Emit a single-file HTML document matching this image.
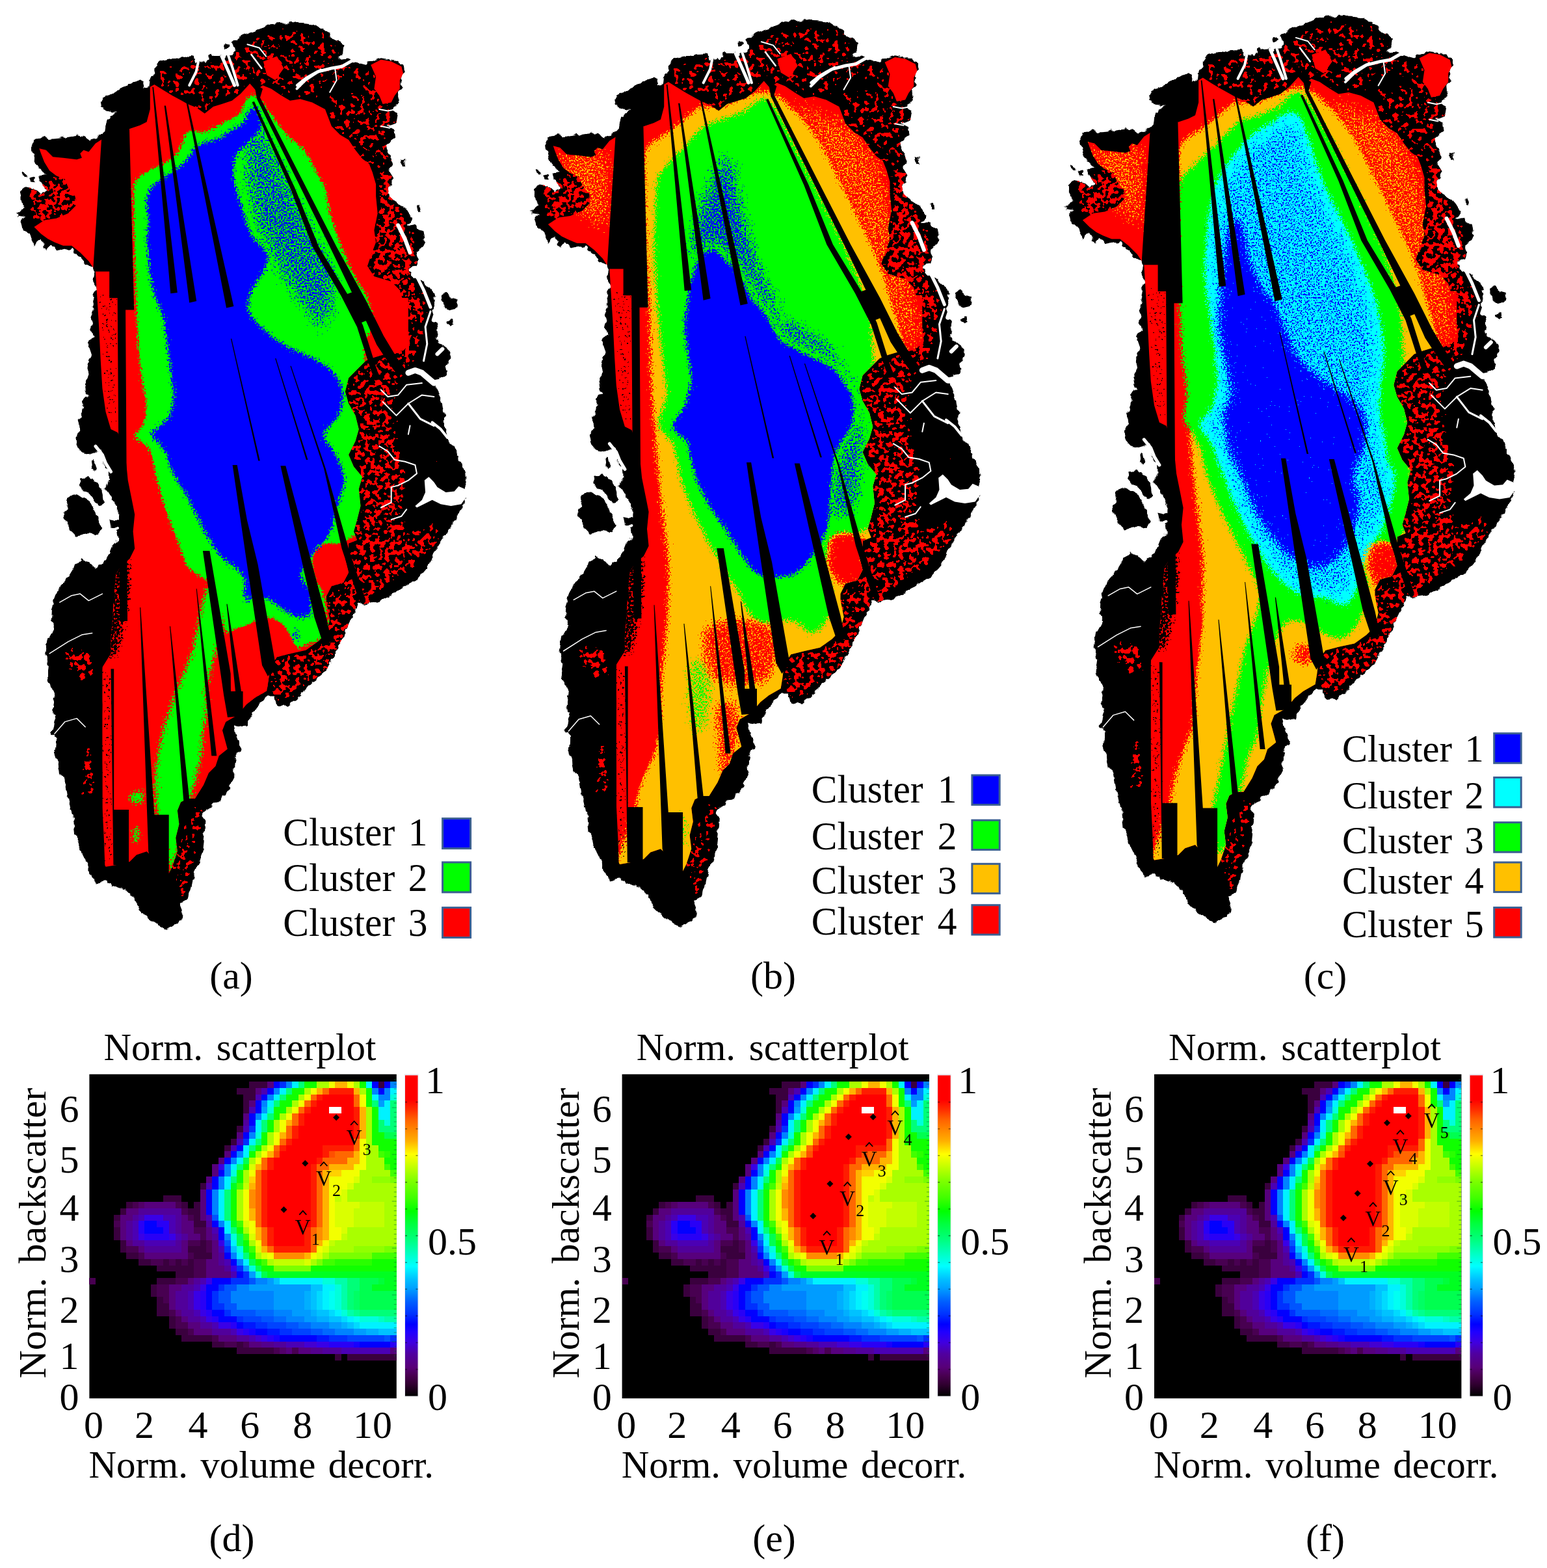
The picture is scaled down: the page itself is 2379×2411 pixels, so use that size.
<!DOCTYPE html>
<html><head><meta charset="utf-8"><title>Figure</title>
<style>html,body{margin:0;padding:0;background:#fff}svg{display:block}text{font-family:"Liberation Serif",serif;fill:#000}</style></head><body>
<svg width="2379" height="2411" viewBox="0 0 2379 2411">
<defs><linearGradient id="cb" x1="0" y1="1" x2="0" y2="0"><stop offset="0.000" stop-color="#000000"/><stop offset="0.036" stop-color="#300030"/><stop offset="0.063" stop-color="#480050"/><stop offset="0.090" stop-color="#580078"/><stop offset="0.132" stop-color="#5000a0"/><stop offset="0.167" stop-color="#4000e0"/><stop offset="0.200" stop-color="#2000ff"/><stop offset="0.224" stop-color="#0000ff"/><stop offset="0.254" stop-color="#0030ff"/><stop offset="0.295" stop-color="#0060ff"/><stop offset="0.336" stop-color="#00a0ff"/><stop offset="0.364" stop-color="#00c0ff"/><stop offset="0.405" stop-color="#00ffff"/><stop offset="0.446" stop-color="#00ffc0"/><stop offset="0.486" stop-color="#00ff80"/><stop offset="0.536" stop-color="#00ff40"/><stop offset="0.577" stop-color="#00ff00"/><stop offset="0.618" stop-color="#40ff00"/><stop offset="0.672" stop-color="#80ff00"/><stop offset="0.713" stop-color="#c0ff00"/><stop offset="0.754" stop-color="#ffff00"/><stop offset="0.795" stop-color="#ffb000"/><stop offset="0.836" stop-color="#ff8000"/><stop offset="0.863" stop-color="#ff6000"/><stop offset="0.891" stop-color="#ff3000"/><stop offset="0.924" stop-color="#ff0000"/><stop offset="1.000" stop-color="#ff0000"/></linearGradient>
<path id="land" d="M141.7 500.0L139.0 487.9L145.6 472.2L141.7 459.1L146.9 446.0L143.0 432.8L145.6 419.7L141.7 409.2L131.2 404.0L125.9 393.5L115.4 390.9L110.2 380.4L99.7 383.0L86.6 385.6L78.7 375.1L70.8 385.6L63.0 367.3L52.5 377.8L44.6 362.0L34.1 351.5L31.5 338.4L39.3 333.2L26.2 331.8L26.2 326.6L38.0 320.0L31.5 306.9L31.5 293.8L39.3 287.3L52.5 289.9L63.0 299.1L73.5 293.8L63.0 282.0L59.0 271.5L69.5 268.9L63.0 258.4L55.1 251.8L51.2 241.3L48.5 225.6L56.4 216.4L65.6 209.9L78.7 213.8L94.4 212.5L110.2 209.9L118.0 208.6L128.5 209.9L139.0 216.4L154.8 207.2L161.3 202.0L164.0 184.9L170.5 177.1L181.0 171.8L167.9 170.5L156.1 165.3L154.8 157.4L160.0 149.5L171.8 143.0L184.9 137.7L195.4 128.5L209.9 125.9L216.4 123.3L220.4 128.5L220.4 135.1L228.2 133.8L229.5 122.0L237.4 115.4L237.4 101.0L247.9 94.4L258.4 91.8L272.8 89.2L297.7 86.6L300.4 98.4L308.2 90.5L314.8 98.4L322.7 85.3L338.4 83.9L343.7 91.8L352.8 83.9L360.7 80.0L356.8 65.6L369.9 55.1L384.3 49.8L406.6 42.0L425.0 35.4L446.0 34.1L469.6 35.4L485.3 36.7L493.2 42.0L500.0 45.9L507.2 56.4L520.4 63.0L529.5 70.8L528.2 78.7L520.4 86.6L523.0 91.8L536.1 90.5L551.8 97.1L570.2 94.4L585.9 89.2L601.7 91.8L620.0 99.7L622.7 110.2L617.4 123.3L618.7 136.4L610.9 146.9L613.5 160.0L601.7 167.9L612.2 173.1L609.5 188.9L596.4 194.1L606.9 199.4L608.2 212.5L593.8 223.0L596.4 236.1L601.7 244.0L604.3 251.8L599.1 262.3L606.9 270.2L601.7 283.3L596.4 288.6L599.1 301.7L606.9 309.5L614.8 314.8L625.3 322.7L633.2 335.8L627.9 346.3L641.0 348.9L651.5 356.8L654.1 372.5L648.9 383.0L638.4 388.2L643.7 398.7L638.4 409.2L627.9 411.9L633.2 425.0L641.0 430.2L651.5 432.8L659.4 440.7L667.3 451.2L669.9 464.3L664.6 477.4L667.3 487.9L672.5 500.0L672.5 510.3L669.9 520.8L677.8 528.7L688.2 536.6L693.5 549.7L685.6 562.8L688.2 573.3L677.8 581.2L667.3 591.7L672.5 602.2L677.8 612.6L680.4 623.1L683.0 638.9L683.0 654.6L688.2 675.6L698.7 686.1L705.3 701.8L711.9 717.6L719.7 735.9L715.8 749.1L717.1 767.4L709.2 780.5L704.0 793.7L693.5 812.0L680.4 827.8L667.3 848.7L659.4 869.7L641.0 890.7L622.7 900.0L601.7 913.1L583.3 923.6L562.3 928.9L549.2 926.2L544.0 944.6L536.1 960.3L528.2 976.1L523.0 989.2L515.1 1004.9L507.2 1023.3L494.1 1039.0L481.0 1046.9L467.9 1062.6L457.4 1075.8L441.7 1086.3L425.9 1083.6L420.7 1070.5L410.2 1070.5L399.7 1083.6L389.2 1096.7L378.7 1115.1L368.2 1117.7L360.3 1115.1L365.6 1136.1L370.8 1149.2L363.0 1162.3L360.3 1175.4L360.3 1196.4L358.5 1200.0L352.2 1212.6L339.6 1229.4L322.8 1242.0L310.2 1254.6L316.5 1263.0L314.4 1283.9L312.3 1309.1L303.9 1330.1L297.6 1346.9L293.4 1367.9L289.2 1382.6L276.7 1388.9L280.8 1399.4L278.8 1412.0L268.3 1422.5L255.7 1428.8L243.1 1422.5L228.4 1412.0L215.8 1399.4L205.3 1380.5L192.7 1367.9L175.9 1361.6L163.3 1355.3L148.6 1357.4L140.2 1346.9L133.9 1325.9L123.5 1304.9L115.1 1283.9L113.0 1258.8L104.6 1231.5L100.4 1200.0L91.8 1188.6L89.2 1172.8L83.9 1157.1L86.6 1136.1L78.7 1128.2L85.3 1104.6L81.3 1088.9L83.9 1073.1L78.7 1057.4L72.1 1041.7L74.8 1023.3L69.5 1007.6L73.5 983.9L83.9 965.6L78.7 952.5L80.0 939.3L83.9 921.0L91.8 900.0L107.6 882.8L115.4 869.7L125.9 859.2L136.4 864.5L146.9 875.0L157.4 867.1L167.9 851.4L173.1 838.2L183.6 827.8L181.0 817.3L170.5 812.0L167.9 798.9L181.0 801.5L183.6 791.0L178.4 775.3L170.5 764.8L162.6 751.7L167.9 738.6L167.9 722.8L157.4 712.3L160.0 701.8L154.8 691.3L141.7 699.2L125.9 695.3L118.0 686.1L115.4 673.0L123.3 659.9L120.7 646.7L125.9 633.6L128.5 617.9L133.8 607.4L129.9 591.7L137.7 575.9L133.8 560.2L141.7 544.4L136.4 528.7L143.0 518.2L139.0 502.5ZM122.0 734.6L136.4 733.3L149.5 741.2L157.4 754.3L160.0 770.0L154.8 777.9L146.9 772.7L141.7 764.8L136.4 759.5L128.5 754.3L123.3 746.4ZM104.9 764.8L118.0 759.5L131.2 764.8L141.7 780.5L152.2 798.9L157.4 812.0L149.5 822.5L136.4 819.9L118.0 825.1L107.6 814.6L99.7 798.9L98.4 788.4L103.6 775.3ZM139.0 708.4L144.3 707.1L147.4 715.0L145.6 722.8L140.3 721.5ZM32.8 263.6L38.0 265.0L42.0 274.1L36.7 272.8ZM44.6 272.8L51.2 274.1L53.8 279.4L47.2 278.6ZM345.0 68.7L350.2 67.7L351.5 73.5L346.8 74.8ZM617.4 244.0L622.1 245.3L623.2 257.1L618.7 255.8ZM641.0 314.8L645.8 316.1L646.8 327.9L642.3 326.6ZM677.8 456.5L685.6 451.2L693.5 456.5L702.7 459.1L701.4 469.6L690.9 472.2L683.0 466.9ZM677.8 457.9L685.6 452.6L693.5 460.5L702.7 463.1L701.4 473.6L690.9 476.2L683.0 471.0ZM688.2 494.6L696.1 492.0L697.4 499.8L690.9 502.5Z"/>
<clipPath id="iceclip"><path d="M146.9 417.1L136.4 401.4L123.3 388.2L110.2 377.8L97.1 377.8L83.9 372.5L73.5 367.3L63.0 359.4L52.5 348.9L68.2 338.4L86.6 335.8L104.9 327.9L118.0 314.8L115.4 301.7L104.9 288.6L99.7 275.4L86.6 270.2L76.1 262.3L68.2 249.2L63.0 236.1L60.3 228.2L70.8 230.8L81.3 241.3L97.1 242.7L118.0 245.3L125.9 242.7L123.3 236.1L128.5 230.8L136.4 233.5L146.9 220.4L157.4 213.8L164.0 199.4L199.4 198.1L215.1 192.8L225.6 187.6L230.8 167.9L230.8 133.8L237.4 129.9L251.8 139.0L265.0 146.9L279.4 154.8L288.6 160.0L301.7 165.3L314.8 174.4L327.9 164.0L341.0 160.0L356.8 154.8L369.9 144.3L384.3 128.5L393.5 139.0L404.0 131.2L417.1 136.4L432.8 146.9L446.0 154.8L461.7 152.2L480.1 157.4L500.0 167.9L509.9 194.1L523.0 207.2L536.1 215.1L546.6 230.8L557.1 244.0L567.6 251.8L572.8 265.0L578.1 283.3L578.1 301.7L580.7 327.9L575.4 354.1L578.1 372.5L570.2 393.5L565.0 409.2L575.4 425.0L601.7 432.8L614.8 446.0L622.7 472.2L627.9 500.0L627.9 510.3L630.5 528.7L620.0 539.2L601.7 541.8L575.4 549.7L562.3 554.9L549.2 568.0L536.1 581.2L530.8 602.2L536.1 620.5L546.6 638.9L551.8 659.9L546.6 678.2L536.1 699.2L544.0 717.6L557.1 733.3L551.8 751.7L554.5 777.9L549.2 798.9L544.0 817.3L549.2 830.4L536.1 835.6L536.1 843.5L530.8 859.2L536.1 880.2L528.2 896.0L509.9 901.2L502.0 916.9L502.0 926.2L507.2 952.5L502.0 973.5L488.9 986.6L470.5 999.7L446.9 1004.9L425.9 1010.2L415.4 1025.9L412.8 1046.9L410.2 1062.6L391.8 1073.1L378.7 1083.6L365.6 1099.4L347.2 1109.9L342.0 1123.0L349.8 1151.8L336.7 1162.3L331.5 1178.1L321.0 1188.6L313.1 1206.9L300.0 1227.9L288.6 1227.9L278.1 1233.2L272.8 1246.3L275.4 1267.3L270.2 1288.2L272.8 1309.2L265.0 1332.8L259.7 1343.3L236.1 1319.7L225.6 1309.2L209.9 1314.5L199.4 1325.0L178.4 1330.2L162.6 1332.8L161.3 1330.2L160.0 1293.5L157.4 1241.0L157.4 1188.6L156.1 1136.1L157.4 1083.6L154.8 1046.9L157.4 1025.9L170.5 1004.9L170.5 978.7L173.1 952.5L174.4 926.2L178.4 935.3L175.8 909.1L178.4 882.8L186.3 869.7L199.4 859.2L207.2 843.5L204.6 817.3L207.2 791.0L202.0 764.8L196.7 738.6L194.1 712.3L188.9 686.1L181.0 665.1L170.5 659.9L162.6 633.6L157.4 596.9L154.8 554.9L152.2 502.5ZM570.2 99.7L585.9 91.8L601.7 94.4L617.4 102.3L620.0 112.8L614.8 123.3L614.8 136.4L606.9 146.9L601.7 157.4L588.6 160.0L583.3 146.9L575.4 136.4L578.1 118.0ZM404.9 94.4L425.9 86.6L436.4 104.9L423.3 123.3L410.2 115.4ZM572.8 457.9L627.9 457.9L627.9 515.6L614.8 533.9L601.7 541.8L575.4 536.6Z"/></clipPath>
<clipPath id="landclip"><path d="M141.7 500.0L139.0 487.9L145.6 472.2L141.7 459.1L146.9 446.0L143.0 432.8L145.6 419.7L141.7 409.2L131.2 404.0L125.9 393.5L115.4 390.9L110.2 380.4L99.7 383.0L86.6 385.6L78.7 375.1L70.8 385.6L63.0 367.3L52.5 377.8L44.6 362.0L34.1 351.5L31.5 338.4L39.3 333.2L26.2 331.8L26.2 326.6L38.0 320.0L31.5 306.9L31.5 293.8L39.3 287.3L52.5 289.9L63.0 299.1L73.5 293.8L63.0 282.0L59.0 271.5L69.5 268.9L63.0 258.4L55.1 251.8L51.2 241.3L48.5 225.6L56.4 216.4L65.6 209.9L78.7 213.8L94.4 212.5L110.2 209.9L118.0 208.6L128.5 209.9L139.0 216.4L154.8 207.2L161.3 202.0L164.0 184.9L170.5 177.1L181.0 171.8L167.9 170.5L156.1 165.3L154.8 157.4L160.0 149.5L171.8 143.0L184.9 137.7L195.4 128.5L209.9 125.9L216.4 123.3L220.4 128.5L220.4 135.1L228.2 133.8L229.5 122.0L237.4 115.4L237.4 101.0L247.9 94.4L258.4 91.8L272.8 89.2L297.7 86.6L300.4 98.4L308.2 90.5L314.8 98.4L322.7 85.3L338.4 83.9L343.7 91.8L352.8 83.9L360.7 80.0L356.8 65.6L369.9 55.1L384.3 49.8L406.6 42.0L425.0 35.4L446.0 34.1L469.6 35.4L485.3 36.7L493.2 42.0L500.0 45.9L507.2 56.4L520.4 63.0L529.5 70.8L528.2 78.7L520.4 86.6L523.0 91.8L536.1 90.5L551.8 97.1L570.2 94.4L585.9 89.2L601.7 91.8L620.0 99.7L622.7 110.2L617.4 123.3L618.7 136.4L610.9 146.9L613.5 160.0L601.7 167.9L612.2 173.1L609.5 188.9L596.4 194.1L606.9 199.4L608.2 212.5L593.8 223.0L596.4 236.1L601.7 244.0L604.3 251.8L599.1 262.3L606.9 270.2L601.7 283.3L596.4 288.6L599.1 301.7L606.9 309.5L614.8 314.8L625.3 322.7L633.2 335.8L627.9 346.3L641.0 348.9L651.5 356.8L654.1 372.5L648.9 383.0L638.4 388.2L643.7 398.7L638.4 409.2L627.9 411.9L633.2 425.0L641.0 430.2L651.5 432.8L659.4 440.7L667.3 451.2L669.9 464.3L664.6 477.4L667.3 487.9L672.5 500.0L672.5 510.3L669.9 520.8L677.8 528.7L688.2 536.6L693.5 549.7L685.6 562.8L688.2 573.3L677.8 581.2L667.3 591.7L672.5 602.2L677.8 612.6L680.4 623.1L683.0 638.9L683.0 654.6L688.2 675.6L698.7 686.1L705.3 701.8L711.9 717.6L719.7 735.9L715.8 749.1L717.1 767.4L709.2 780.5L704.0 793.7L693.5 812.0L680.4 827.8L667.3 848.7L659.4 869.7L641.0 890.7L622.7 900.0L601.7 913.1L583.3 923.6L562.3 928.9L549.2 926.2L544.0 944.6L536.1 960.3L528.2 976.1L523.0 989.2L515.1 1004.9L507.2 1023.3L494.1 1039.0L481.0 1046.9L467.9 1062.6L457.4 1075.8L441.7 1086.3L425.9 1083.6L420.7 1070.5L410.2 1070.5L399.7 1083.6L389.2 1096.7L378.7 1115.1L368.2 1117.7L360.3 1115.1L365.6 1136.1L370.8 1149.2L363.0 1162.3L360.3 1175.4L360.3 1196.4L358.5 1200.0L352.2 1212.6L339.6 1229.4L322.8 1242.0L310.2 1254.6L316.5 1263.0L314.4 1283.9L312.3 1309.1L303.9 1330.1L297.6 1346.9L293.4 1367.9L289.2 1382.6L276.7 1388.9L280.8 1399.4L278.8 1412.0L268.3 1422.5L255.7 1428.8L243.1 1422.5L228.4 1412.0L215.8 1399.4L205.3 1380.5L192.7 1367.9L175.9 1361.6L163.3 1355.3L148.6 1357.4L140.2 1346.9L133.9 1325.9L123.5 1304.9L115.1 1283.9L113.0 1258.8L104.6 1231.5L100.4 1200.0L91.8 1188.6L89.2 1172.8L83.9 1157.1L86.6 1136.1L78.7 1128.2L85.3 1104.6L81.3 1088.9L83.9 1073.1L78.7 1057.4L72.1 1041.7L74.8 1023.3L69.5 1007.6L73.5 983.9L83.9 965.6L78.7 952.5L80.0 939.3L83.9 921.0L91.8 900.0L107.6 882.8L115.4 869.7L125.9 859.2L136.4 864.5L146.9 875.0L157.4 867.1L167.9 851.4L173.1 838.2L183.6 827.8L181.0 817.3L170.5 812.0L167.9 798.9L181.0 801.5L183.6 791.0L178.4 775.3L170.5 764.8L162.6 751.7L167.9 738.6L167.9 722.8L157.4 712.3L160.0 701.8L154.8 691.3L141.7 699.2L125.9 695.3L118.0 686.1L115.4 673.0L123.3 659.9L120.7 646.7L125.9 633.6L128.5 617.9L133.8 607.4L129.9 591.7L137.7 575.9L133.8 560.2L141.7 544.4L136.4 528.7L143.0 518.2L139.0 502.5ZM122.0 734.6L136.4 733.3L149.5 741.2L157.4 754.3L160.0 770.0L154.8 777.9L146.9 772.7L141.7 764.8L136.4 759.5L128.5 754.3L123.3 746.4ZM104.9 764.8L118.0 759.5L131.2 764.8L141.7 780.5L152.2 798.9L157.4 812.0L149.5 822.5L136.4 819.9L118.0 825.1L107.6 814.6L99.7 798.9L98.4 788.4L103.6 775.3ZM139.0 708.4L144.3 707.1L147.4 715.0L145.6 722.8L140.3 721.5ZM32.8 263.6L38.0 265.0L42.0 274.1L36.7 272.8ZM44.6 272.8L51.2 274.1L53.8 279.4L47.2 278.6ZM345.0 68.7L350.2 67.7L351.5 73.5L346.8 74.8ZM617.4 244.0L622.1 245.3L623.2 257.1L618.7 255.8ZM641.0 314.8L645.8 316.1L646.8 327.9L642.3 326.6ZM677.8 456.5L685.6 451.2L693.5 456.5L702.7 459.1L701.4 469.6L690.9 472.2L683.0 466.9ZM677.8 457.9L685.6 452.6L693.5 460.5L702.7 463.1L701.4 473.6L690.9 476.2L683.0 471.0ZM688.2 494.6L696.1 492.0L697.4 499.8L690.9 502.5Z"/></clipPath>
<path id="stripes" d="M165.0 183.0L199.0 198.0L206.2 476.6L193.1 476.6L196.0 955.0L184.0 955.0L180.7 458.2L168.2 458.2L168.2 417.5L143.0 417.5L156.0 215.0ZM234.3 133.8L236.1 133.8L272.8 449.9L262.3 451.2ZM252.6 162.6L255.0 162.6L302.2 463.0L291.2 465.6ZM286.7 158.7L289.1 158.7L359.4 470.9L348.1 473.5ZM354.9 520.8L356.2 520.8L399.8 708.4L397.2 708.4ZM423.1 551.0L424.4 551.0L473.5 707.1L470.9 707.1ZM357.6 715.0L364.7 715.0L380.0 800.0L396.6 868.0L424.0 1023.0L412.0 1040.0L403.0 1023.0L379.9 868.0ZM431.4 716.3L439.3 716.3L502.0 950.0L483.6 950.0ZM483.6 949.8L502.0 949.8L509.9 986.6L496.7 989.2ZM311.9 846.9L322.4 846.9L354.7 1035.8L355.0 1063.0L373.6 1063.0L373.6 1101.0L350.0 1103.0L344.2 1069.4ZM348.4 928.7L349.6 928.7L371.0 1063.0L362.0 1063.0ZM301.7 905.2L302.7 905.2L333.2 1162.3L325.3 1162.3ZM261.0 963.0L262.1 963.0L291.2 1227.9L296.4 1293.5L288.6 1293.5L282.0 1227.9ZM215.1 934.1L216.2 934.1L237.4 1252.8L259.7 1252.8L259.7 1346.0L237.4 1346.0L228.2 1309.2ZM170.5 1028.5L175.2 1028.5L175.2 1245.0L198.1 1245.0L198.1 1330.2L174.4 1330.2ZM145.6 1015.4L157.4 1015.4L157.4 1332.8L145.6 1332.8ZM391.0 156.0L453.0 288.0L490.5 380.0L536.0 455.0L558.0 500.0L580.0 570.0L586.0 583.0L577.0 585.0L571.0 571.0L549.1 502.8L524.6 455.0L480.9 380.0L446.0 288.6L387.5 157.0ZM390.9 128.5L404.0 136.4L400.0 150.0L517.8 380.0L562.8 461.9L590.0 516.4L610.5 550.5L625.0 570.0L610.0 575.0L597.0 557.0L579.2 530.0L562.8 493.2L541.0 449.6L507.5 380.0L395.0 152.0ZM527.3 454.4L541.0 449.6L562.8 493.2L549.1 498.7ZM446.4 562.8L447.7 562.8L500.7 720.2L536.1 843.5L562.3 922.2L551.8 922.2L525.6 843.5L498.1 720.2Z"/>
<g id="fjords" fill="none" stroke="#fff" stroke-linejoin="round" stroke-linecap="round"><path d="M457.4 131.2L470.5 120.7L488.9 110.2L509.9 104.9L525.6 102.3L544.0 91.8L562.3 97.1" stroke-width="5"/><path d="M544.0 91.8L551.8 86.6" stroke-width="9"/><path d="M305.6 91.8L301.7 110.2L291.2 131.2" stroke-width="4"/><path d="M341.0 86.6L351.5 110.2L360.7 131.2" stroke-width="5"/><path d="M380.4 68.2L398.7 73.5L409.2 86.6" stroke-width="2"/><path d="M456.5 136.4L469.6 123.3L493.2 107.6" stroke-width="4"/><path d="M349.8 81.3L357.7 104.9L365.6 131.2" stroke-width="4"/><path d="M386.6 83.9L394.4 94.4L402.3 104.9" stroke-width="2.5"/><path d="M515.1 104.9L517.7 123.3L507.2 141.7" stroke-width="2"/><path d="M583.3 167.9L596.4 170.5L609.5 167.9" stroke-width="2"/><path d="M585.9 194.1L599.1 196.7" stroke-width="2"/><path d="M585.9 599.5L596.4 610.0L612.2 607.4L625.3 591.7L648.9 589.0" stroke-width="2"/><path d="M588.6 617.9L609.5 638.9L627.9 620.5L648.9 607.4L667.3 610.0" stroke-width="2"/><path d="M627.9 620.5L646.3 644.1L667.3 654.6" stroke-width="3"/><path d="M630.5 654.6L627.9 667.7" stroke-width="2"/><path d="M627.9 573.3L638.4 569.4L648.9 573.3L667.3 589.0L680.4 586.4" stroke-width="9"/><path d="M672.5 476.2L667.3 492.0" stroke-width="7"/><path d="M680.4 536.6L672.5 544.4" stroke-width="6"/><path d="M664.6 649.4L677.8 659.9L688.2 673.0" stroke-width="4"/><path d="M601.7 262.3L614.8 283.3L622.7 301.7" stroke-width="6"/><path d="M612.2 346.3L622.7 367.3L630.5 388.2" stroke-width="6"/><path d="M641.0 425.0L651.5 446.0L662.0 472.2" stroke-width="5"/><path d="M662.0 478.9L654.1 502.5L656.8 528.7L651.5 554.9" stroke-width="3"/><path d="M583.3 686.1L596.4 694.0L606.9 707.1L622.7 709.7L638.4 715.0L641.0 728.1L627.9 738.6L612.2 746.4L601.7 749.1L601.7 772.7L585.9 780.5" stroke-width="2"/><path d="M625.3 783.2L617.4 793.7L601.7 798.9" stroke-width="2"/><path d="M146.9 686.1L157.4 699.2L162.6 712.3L170.5 725.4" stroke-width="5"/><path d="M160.0 780.5L167.9 791.0" stroke-width="6"/><path d="M157.4 825.1L167.9 817.3L181.0 812.0" stroke-width="4"/><path d="M91.8 926.2L110.2 915.7L123.3 913.1L136.4 923.6L157.4 913.1" stroke-width="1.5"/><path d="M76.1 1004.9L104.9 986.6L125.9 976.1L141.7 973.5" stroke-width="1.5"/><path d="M83.9 1128.2L99.7 1109.9L118.0 1104.6L131.2 1117.7" stroke-width="1.5"/><path d="M715.8 766.1L709.2 775.3L693.5 777.9L677.8 775.3L664.6 768.7L654.1 774.0L641.0 780.5L638.4 777.9L648.9 768.7L654.1 756.9L652.8 738.6L659.4 733.3L667.3 741.2L672.5 749.1L685.6 756.9L698.7 755.6L705.3 747.7L714.5 751.7L725.0 759.5ZM131.2 825.1L146.9 825.1L157.4 817.3L160.0 791.0L167.9 801.5L162.6 817.3L146.9 827.8L131.2 830.4L115.4 827.8Z" fill="#fff" stroke="none"/></g>
<filter id="rough" x="-5%" y="-5%" width="110%" height="110%"><feTurbulence type="fractalNoise" baseFrequency="0.09" numOctaves="2" seed="3"/><feDisplacementMap in="SourceGraphic" scale="9" xChannelSelector="R" yChannelSelector="G"/></filter>
<filter id="dff0000_5_0_13" x="-15%" y="-15%" width="130%" height="130%" color-interpolation-filters="sRGB"><feGaussianBlur in="SourceAlpha" stdDeviation="5" result="b"/><feTurbulence type="fractalNoise" baseFrequency="0.13" numOctaves="2" seed="11" result="n"/><feComposite in="b" in2="n" operator="arithmetic" k1="0" k2="1" k3="1.3" k4="-0.65" result="c"/><feComponentTransfer in="c" result="t"><feFuncA type="discrete" tableValues="0 1"/></feComponentTransfer><feFlood flood-color="#ff0000" result="f"/><feComposite in="f" in2="t" operator="in"/></filter>
<filter id="d00ff00_6_0_4" x="-15%" y="-15%" width="130%" height="130%" color-interpolation-filters="sRGB"><feGaussianBlur in="SourceAlpha" stdDeviation="6" result="b"/><feTurbulence type="fractalNoise" baseFrequency="0.4" numOctaves="2" seed="5" result="n"/><feComposite in="b" in2="n" operator="arithmetic" k1="0" k2="1" k3="1.0" k4="-0.5" result="c"/><feComponentTransfer in="c" result="t"><feFuncA type="discrete" tableValues="0 1"/></feComponentTransfer><feFlood flood-color="#00ff00" result="f"/><feComposite in="f" in2="t" operator="in"/></filter>
<filter id="d00ff00_10_0_4" x="-15%" y="-15%" width="130%" height="130%" color-interpolation-filters="sRGB"><feGaussianBlur in="SourceAlpha" stdDeviation="10" result="b"/><feTurbulence type="fractalNoise" baseFrequency="0.4" numOctaves="2" seed="5" result="n"/><feComposite in="b" in2="n" operator="arithmetic" k1="0" k2="1" k3="1.0" k4="-0.5" result="c"/><feComponentTransfer in="c" result="t"><feFuncA type="discrete" tableValues="0 1"/></feComponentTransfer><feFlood flood-color="#00ff00" result="f"/><feComposite in="f" in2="t" operator="in"/></filter>
<filter id="dff0000_6_0_4" x="-15%" y="-15%" width="130%" height="130%" color-interpolation-filters="sRGB"><feGaussianBlur in="SourceAlpha" stdDeviation="6" result="b"/><feTurbulence type="fractalNoise" baseFrequency="0.4" numOctaves="2" seed="5" result="n"/><feComposite in="b" in2="n" operator="arithmetic" k1="0" k2="1" k3="1.0" k4="-0.5" result="c"/><feComponentTransfer in="c" result="t"><feFuncA type="discrete" tableValues="0 1"/></feComponentTransfer><feFlood flood-color="#ff0000" result="f"/><feComposite in="f" in2="t" operator="in"/></filter>
<filter id="d0000ff_14_0_4" x="-15%" y="-15%" width="130%" height="130%" color-interpolation-filters="sRGB"><feGaussianBlur in="SourceAlpha" stdDeviation="14" result="b"/><feTurbulence type="fractalNoise" baseFrequency="0.4" numOctaves="2" seed="5" result="n"/><feComposite in="b" in2="n" operator="arithmetic" k1="0" k2="1" k3="1.0" k4="-0.5" result="c"/><feComponentTransfer in="c" result="t"><feFuncA type="discrete" tableValues="0 1"/></feComponentTransfer><feFlood flood-color="#0000ff" result="f"/><feComposite in="f" in2="t" operator="in"/></filter>
<filter id="d0000ff_8_0_4" x="-15%" y="-15%" width="130%" height="130%" color-interpolation-filters="sRGB"><feGaussianBlur in="SourceAlpha" stdDeviation="8" result="b"/><feTurbulence type="fractalNoise" baseFrequency="0.4" numOctaves="2" seed="5" result="n"/><feComposite in="b" in2="n" operator="arithmetic" k1="0" k2="1" k3="1.0" k4="-0.5" result="c"/><feComponentTransfer in="c" result="t"><feFuncA type="discrete" tableValues="0 1"/></feComponentTransfer><feFlood flood-color="#0000ff" result="f"/><feComposite in="f" in2="t" operator="in"/></filter>
<filter id="d000000_4_0_3" x="-15%" y="-15%" width="130%" height="130%" color-interpolation-filters="sRGB"><feGaussianBlur in="SourceAlpha" stdDeviation="4" result="b"/><feTurbulence type="fractalNoise" baseFrequency="0.3" numOctaves="2" seed="7" result="n"/><feComposite in="b" in2="n" operator="arithmetic" k1="0" k2="1" k3="1.3" k4="-0.65" result="c"/><feComponentTransfer in="c" result="t"><feFuncA type="discrete" tableValues="0 1"/></feComponentTransfer><feFlood flood-color="#000000" result="f"/><feComposite in="f" in2="t" operator="in"/></filter>
<filter id="dffc000_16_0_4" x="-15%" y="-15%" width="130%" height="130%" color-interpolation-filters="sRGB"><feGaussianBlur in="SourceAlpha" stdDeviation="16" result="b"/><feTurbulence type="fractalNoise" baseFrequency="0.4" numOctaves="2" seed="5" result="n"/><feComposite in="b" in2="n" operator="arithmetic" k1="0" k2="1" k3="1.0" k4="-0.5" result="c"/><feComponentTransfer in="c" result="t"><feFuncA type="discrete" tableValues="0 1"/></feComponentTransfer><feFlood flood-color="#ffc000" result="f"/><feComposite in="f" in2="t" operator="in"/></filter>
<filter id="dffc000_10_0_4" x="-15%" y="-15%" width="130%" height="130%" color-interpolation-filters="sRGB"><feGaussianBlur in="SourceAlpha" stdDeviation="10" result="b"/><feTurbulence type="fractalNoise" baseFrequency="0.4" numOctaves="2" seed="5" result="n"/><feComposite in="b" in2="n" operator="arithmetic" k1="0" k2="1" k3="1.0" k4="-0.5" result="c"/><feComponentTransfer in="c" result="t"><feFuncA type="discrete" tableValues="0 1"/></feComponentTransfer><feFlood flood-color="#ffc000" result="f"/><feComposite in="f" in2="t" operator="in"/></filter>
<filter id="d00ff00_9_0_4" x="-15%" y="-15%" width="130%" height="130%" color-interpolation-filters="sRGB"><feGaussianBlur in="SourceAlpha" stdDeviation="9" result="b"/><feTurbulence type="fractalNoise" baseFrequency="0.4" numOctaves="2" seed="5" result="n"/><feComposite in="b" in2="n" operator="arithmetic" k1="0" k2="1" k3="1.0" k4="-0.5" result="c"/><feComponentTransfer in="c" result="t"><feFuncA type="discrete" tableValues="0 1"/></feComponentTransfer><feFlood flood-color="#00ff00" result="f"/><feComposite in="f" in2="t" operator="in"/></filter>
<filter id="dff0000_8_0_4" x="-15%" y="-15%" width="130%" height="130%" color-interpolation-filters="sRGB"><feGaussianBlur in="SourceAlpha" stdDeviation="8" result="b"/><feTurbulence type="fractalNoise" baseFrequency="0.4" numOctaves="2" seed="5" result="n"/><feComposite in="b" in2="n" operator="arithmetic" k1="0" k2="1" k3="1.0" k4="-0.5" result="c"/><feComponentTransfer in="c" result="t"><feFuncA type="discrete" tableValues="0 1"/></feComponentTransfer><feFlood flood-color="#ff0000" result="f"/><feComposite in="f" in2="t" operator="in"/></filter>
<filter id="dff0000_10_0_4" x="-15%" y="-15%" width="130%" height="130%" color-interpolation-filters="sRGB"><feGaussianBlur in="SourceAlpha" stdDeviation="10" result="b"/><feTurbulence type="fractalNoise" baseFrequency="0.4" numOctaves="2" seed="5" result="n"/><feComposite in="b" in2="n" operator="arithmetic" k1="0" k2="1" k3="1.0" k4="-0.5" result="c"/><feComponentTransfer in="c" result="t"><feFuncA type="discrete" tableValues="0 1"/></feComponentTransfer><feFlood flood-color="#ff0000" result="f"/><feComposite in="f" in2="t" operator="in"/></filter>
<filter id="d0000ff_12_0_4" x="-15%" y="-15%" width="130%" height="130%" color-interpolation-filters="sRGB"><feGaussianBlur in="SourceAlpha" stdDeviation="12" result="b"/><feTurbulence type="fractalNoise" baseFrequency="0.4" numOctaves="2" seed="5" result="n"/><feComposite in="b" in2="n" operator="arithmetic" k1="0" k2="1" k3="1.0" k4="-0.5" result="c"/><feComponentTransfer in="c" result="t"><feFuncA type="discrete" tableValues="0 1"/></feComponentTransfer><feFlood flood-color="#0000ff" result="f"/><feComposite in="f" in2="t" operator="in"/></filter>
<filter id="d00ffff_9_0_4" x="-15%" y="-15%" width="130%" height="130%" color-interpolation-filters="sRGB"><feGaussianBlur in="SourceAlpha" stdDeviation="9" result="b"/><feTurbulence type="fractalNoise" baseFrequency="0.4" numOctaves="2" seed="5" result="n"/><feComposite in="b" in2="n" operator="arithmetic" k1="0" k2="1" k3="1.0" k4="-0.5" result="c"/><feComponentTransfer in="c" result="t"><feFuncA type="discrete" tableValues="0 1"/></feComponentTransfer><feFlood flood-color="#00ffff" result="f"/><feComposite in="f" in2="t" operator="in"/></filter>
<filter id="d0000ff_16_0_4" x="-15%" y="-15%" width="130%" height="130%" color-interpolation-filters="sRGB"><feGaussianBlur in="SourceAlpha" stdDeviation="16" result="b"/><feTurbulence type="fractalNoise" baseFrequency="0.4" numOctaves="2" seed="5" result="n"/><feComposite in="b" in2="n" operator="arithmetic" k1="0" k2="1" k3="1.0" k4="-0.5" result="c"/><feComponentTransfer in="c" result="t"><feFuncA type="discrete" tableValues="0 1"/></feComponentTransfer><feFlood flood-color="#0000ff" result="f"/><feComposite in="f" in2="t" operator="in"/></filter>
</defs>
<rect width="2379" height="2411" fill="#fff"/>
<g transform="translate(0.0 0.0)">
<use href="#land" fill="#000" filter="url(#rough)"/>
<g clip-path="url(#landclip)">
<path d="M237.4 115.4L262.3 99.7L301.7 94.4L341.0 89.2L367.3 78.7L380.4 60.3L419.7 47.2L459.1 44.6L500.0 52.5L523.0 68.2L523.0 89.2L536.1 99.7L562.3 104.9L588.6 94.4L614.8 104.9L614.8 136.4L606.9 157.4L588.6 162.6L562.3 157.4L549.2 131.2L509.9 125.9L483.6 146.9L457.4 157.4L431.2 146.9L418.0 133.8L404.9 131.2L378.7 131.2L367.3 146.9L341.0 157.4L314.8 173.1L288.6 157.4L262.3 146.9L236.1 131.2Z" fill="#f00" fill-opacity="0.36" filter="url(#dff0000_5_0_13)"/>
<path d="M578.1 262.3L601.7 262.3L609.5 314.8L627.9 341.0L641.0 393.5L635.8 432.8L654.1 459.1L654.1 500.0L627.9 500.0L614.8 446.0L575.4 425.0L565.0 409.2L570.2 393.5L578.1 372.5L575.4 354.1L580.7 327.9Z" fill="#f00" fill-opacity="0.5" filter="url(#dff0000_5_0_13)"/>
<path d="M627.9 502.5L654.1 502.5L641.0 554.9L614.8 581.2L601.7 633.6L614.8 686.1L627.9 738.6L614.8 791.0L627.9 817.3L667.3 804.1L680.4 830.4L641.0 869.7L588.6 909.1L562.3 935.3L546.6 950.0L483.6 950.0L502.0 916.9L528.2 896.0L536.1 880.2L530.8 859.2L549.2 830.4L544.0 817.3L554.5 777.9L551.8 751.7L557.1 733.3L544.0 717.6L536.1 699.2L551.8 659.9L536.1 620.5L530.8 602.2L549.2 568.0L575.4 549.7L601.7 541.8Z" fill="#f00" fill-opacity="0.46" filter="url(#dff0000_5_0_13)"/>
<path d="M483.6 949.8L546.6 949.8L536.1 978.7L523.0 1004.9L496.7 1036.4L470.5 1057.4L431.2 1081.0L415.4 1067.9L415.4 1025.9L425.9 1010.2L446.9 1004.9L470.5 999.7L488.9 986.6L502.0 973.5Z" fill="#f00" fill-opacity="0.46" filter="url(#dff0000_5_0_13)"/>
<path d="M102.3 999.7L144.3 999.7L144.3 1046.9L125.9 1046.9L104.9 1031.2Z" fill="#f00" fill-opacity="0.5" filter="url(#dff0000_5_0_13)"/>
<path d="M125.9 1149.2L144.3 1149.2L144.3 1222.7L128.5 1222.7Z" fill="#f00" fill-opacity="0.5" filter="url(#dff0000_5_0_13)"/>
<path d="M39.3 288.6L118.0 262.3L146.9 288.6L118.0 327.9L86.6 335.8L52.5 348.9Z" fill="#f00" fill-opacity="0.5" filter="url(#dff0000_5_0_13)"/>
<path d="M262.3 1332.8L288.6 1241.0L314.8 1241.0L301.7 1319.7L288.6 1372.2L275.4 1385.3Z" fill="#f00" fill-opacity="0.4" filter="url(#dff0000_5_0_13)"/>
<path d="M499.4 146.9L536.1 141.7L575.4 146.9L609.5 157.4L609.5 188.9L596.4 209.9L601.7 244.0L599.1 262.3L578.1 265.0L567.6 251.8L546.6 230.8L523.0 207.2L509.9 194.1L496.7 173.1Z" fill="#f00" fill-opacity="0.36" filter="url(#dff0000_5_0_13)"/>
</g>
<g clip-path="url(#iceclip)">
<rect x="0" y="0" width="760" height="1460" fill="#ff0000"/>
<path d="M205.9 279.4L215.1 271.5L228.2 262.3L244.0 255.8L259.7 247.9L272.8 236.1L280.7 220.4L284.6 204.6L291.2 199.4L296.4 202.0L314.8 203.3L330.5 196.7L346.3 186.3L362.0 181.0L372.5 170.5L376.4 154.8L380.4 148.2L388.2 145.6L396.1 149.5L401.4 154.8L414.5 173.1L430.2 194.1L446.0 212.5L461.7 225.6L472.2 236.1L485.3 262.3L500.0 288.6L507.2 327.9L520.4 367.3L536.1 406.6L549.2 432.8L562.3 451.2L570.2 472.2L575.4 500.0L565.0 515.6L559.7 536.6L562.3 568.0L562.3 633.6L567.6 712.3L562.3 791.0L551.8 817.3L536.1 833.0L515.1 838.2L499.4 835.6L486.3 846.1L481.0 859.2L483.6 880.2L494.1 906.5L499.4 922.2L502.0 950.0L502.0 949.8L507.2 965.6L488.9 986.6L473.1 989.2L457.4 999.7L449.5 986.6L441.7 970.8L431.2 957.7L418.0 951.2L399.7 952.5L378.7 963.0L360.3 968.2L349.8 978.7L325.0 895.0L301.7 882.8L285.9 869.7L278.1 843.5L267.6 817.3L257.1 791.0L249.2 764.8L241.3 738.6L236.1 712.3L230.8 691.3L217.7 678.2L202.0 673.0L209.9 665.1L223.0 649.4L225.6 620.5L217.7 581.2L212.5 528.7L209.9 476.2L207.2 393.5L205.9 341.0Z" fill="#00ff00" fill-opacity="1" filter="url(#d00ff00_6_0_4)"/>
<path d="M322.0 890.0L350.0 900.0L345.0 960.0L331.5 1000.0L315.7 1063.0L318.9 1094.0L311.0 1126.0L311.0 1157.0L303.0 1189.0L295.0 1220.0L287.0 1252.0L275.0 1300.0L265.0 1345.0L255.0 1345.0L240.0 1236.0L238.6 1189.0L249.6 1126.0L271.7 1063.0L296.9 1000.0L305.0 960.0L312.0 925.0Z" fill="#00ff00" fill-opacity="1" filter="url(#d00ff00_10_0_4)"/>
<path d="M193.0 1225.0L210.0 1212.0L224.0 1215.0L222.0 1236.0L205.0 1240.0ZM200.0 1270.0L216.0 1268.0L218.0 1298.0L203.0 1299.0Z" fill="#00ff00" fill-opacity="0.7" filter="url(#d00ff00_6_0_4)"/>
<path d="M481.0 859.2L486.3 846.1L499.4 835.6L515.1 838.2L536.1 833.0L544.0 817.3L551.8 843.5L546.6 869.7L536.1 882.8L528.2 896.0L509.9 901.2L494.1 906.5L483.6 880.2ZM349.8 978.7L360.3 968.2L378.7 963.0L399.7 952.5L418.0 951.2L431.2 957.7L441.7 970.8L449.5 986.6L457.4 999.7L446.9 1004.9L425.9 1010.2L415.4 1025.9L412.8 1046.9L410.2 1062.6L391.8 1073.1L378.7 1083.6L365.6 1083.6L357.7 1067.9L352.5 1031.2L347.2 1004.9Z" fill="#ff0000" fill-opacity="1" filter="url(#dff0000_6_0_4)"/>
<path d="M390.3 155.3L419.7 209.9L461.7 293.8L503.7 377.8L528.9 428.1L520.5 482.7L495.3 524.7L461.7 482.7L419.7 419.7L398.7 377.8L377.8 335.8L369.4 272.8L365.2 209.9L377.8 167.9Z" fill="#0000ff" fill-opacity="0.5" filter="url(#d0000ff_14_0_4)"/>
<path d="M225.6 301.7L230.8 288.6L246.6 275.4L265.0 265.0L283.3 251.8L293.8 236.1L301.7 223.0L320.0 217.7L341.0 212.5L354.1 199.4L372.5 194.1L383.0 170.5L388.2 157.4L393.5 157.4L398.7 170.5L404.0 199.4L391.8 209.9L378.7 223.0L363.0 236.1L357.7 262.3L363.0 288.6L370.8 314.8L378.7 341.0L389.2 367.3L404.9 380.4L415.4 393.5L404.9 419.7L386.6 446.0L378.7 476.2L399.7 502.5L425.9 523.5L446.9 536.6L467.9 544.4L488.9 554.9L509.9 568.0L523.0 586.4L528.2 607.4L523.0 633.6L515.1 649.4L499.4 659.9L494.1 673.0L509.9 686.1L523.0 712.3L530.8 738.6L523.0 764.8L515.1 791.0L509.9 817.3L499.4 830.4L488.9 843.5L478.4 854.0L467.9 869.7L457.4 896.0L462.6 922.2L470.5 935.3L457.4 950.0L431.2 935.3L418.0 922.2L391.8 916.9L380.3 896.0L367.3 875.0L341.0 859.2L330.5 843.5L314.8 817.3L301.7 791.0L288.6 764.8L275.4 743.8L265.0 725.4L257.1 701.8L246.6 680.8L223.0 669.0L244.0 657.2L262.3 638.9L267.6 607.4L262.3 568.0L257.1 528.7L251.8 489.3L236.1 450.0L230.8 419.7L228.2 393.5L225.6 367.3L228.2 341.0L225.6 314.8ZM373.5 900.0L386.6 900.0L386.6 931.5L376.1 928.9ZM404.9 900.0L423.3 900.0L420.7 921.0L407.6 918.4ZM431.2 900.0L478.4 900.0L478.4 952.5L457.4 947.2L436.4 926.2ZM446.9 965.6L462.6 968.2L460.0 989.2L449.5 986.6ZM431.2 882.8L467.9 896.0L470.5 935.3L457.4 950.0L431.2 935.3L418.0 922.2L391.8 916.9L378.7 896.0Z" fill="#0000ff" fill-opacity="1" filter="url(#d0000ff_8_0_4)"/>
<path d="M167.9 900.0L199.4 900.0L194.1 952.5L183.6 1004.9L167.9 1018.0L162.6 978.7Z" fill="#000" fill-opacity="0.6" filter="url(#d000000_4_0_3)"/>
<path d="M170.5 869.7L199.4 859.2L202.0 896.0L196.7 950.0L170.5 950.0Z" fill="#000" fill-opacity="0.6" filter="url(#d000000_4_0_3)"/>
<path d="M152.2 450.0L181.0 450.0L181.0 654.6L167.9 654.6L160.0 596.9L154.8 528.7Z" fill="#000" fill-opacity="0.25" filter="url(#d000000_4_0_3)"/>
<path d="M157.4 1025.9L173.1 1025.9L173.1 1330.2L160.0 1330.2Z" fill="#000" fill-opacity="0.3" filter="url(#d000000_4_0_3)"/>
</g>
<g clip-path="url(#landclip)"><use href="#stripes" fill="#000"/></g>
<use href="#fjords"/>
</g>
<g transform="translate(790.4 -3.9)">
<use href="#land" fill="#000" filter="url(#rough)"/>
<g clip-path="url(#landclip)">
<path d="M237.4 115.4L262.3 99.7L301.7 94.4L341.0 89.2L367.3 78.7L380.4 60.3L419.7 47.2L459.1 44.6L500.0 52.5L523.0 68.2L523.0 89.2L536.1 99.7L562.3 104.9L588.6 94.4L614.8 104.9L614.8 136.4L606.9 157.4L588.6 162.6L562.3 157.4L549.2 131.2L509.9 125.9L483.6 146.9L457.4 157.4L431.2 146.9L418.0 133.8L404.9 131.2L378.7 131.2L367.3 146.9L341.0 157.4L314.8 173.1L288.6 157.4L262.3 146.9L236.1 131.2Z" fill="#f00" fill-opacity="0.36" filter="url(#dff0000_5_0_13)"/>
<path d="M578.1 262.3L601.7 262.3L609.5 314.8L627.9 341.0L641.0 393.5L635.8 432.8L654.1 459.1L654.1 500.0L627.9 500.0L614.8 446.0L575.4 425.0L565.0 409.2L570.2 393.5L578.1 372.5L575.4 354.1L580.7 327.9Z" fill="#f00" fill-opacity="0.5" filter="url(#dff0000_5_0_13)"/>
<path d="M627.9 502.5L654.1 502.5L641.0 554.9L614.8 581.2L601.7 633.6L614.8 686.1L627.9 738.6L614.8 791.0L627.9 817.3L667.3 804.1L680.4 830.4L641.0 869.7L588.6 909.1L562.3 935.3L546.6 950.0L483.6 950.0L502.0 916.9L528.2 896.0L536.1 880.2L530.8 859.2L549.2 830.4L544.0 817.3L554.5 777.9L551.8 751.7L557.1 733.3L544.0 717.6L536.1 699.2L551.8 659.9L536.1 620.5L530.8 602.2L549.2 568.0L575.4 549.7L601.7 541.8Z" fill="#f00" fill-opacity="0.46" filter="url(#dff0000_5_0_13)"/>
<path d="M483.6 949.8L546.6 949.8L536.1 978.7L523.0 1004.9L496.7 1036.4L470.5 1057.4L431.2 1081.0L415.4 1067.9L415.4 1025.9L425.9 1010.2L446.9 1004.9L470.5 999.7L488.9 986.6L502.0 973.5Z" fill="#f00" fill-opacity="0.46" filter="url(#dff0000_5_0_13)"/>
<path d="M102.3 999.7L144.3 999.7L144.3 1046.9L125.9 1046.9L104.9 1031.2Z" fill="#f00" fill-opacity="0.5" filter="url(#dff0000_5_0_13)"/>
<path d="M125.9 1149.2L144.3 1149.2L144.3 1222.7L128.5 1222.7Z" fill="#f00" fill-opacity="0.5" filter="url(#dff0000_5_0_13)"/>
<path d="M39.3 288.6L118.0 262.3L146.9 288.6L118.0 327.9L86.6 335.8L52.5 348.9Z" fill="#f00" fill-opacity="0.5" filter="url(#dff0000_5_0_13)"/>
<path d="M262.3 1332.8L288.6 1241.0L314.8 1241.0L301.7 1319.7L288.6 1372.2L275.4 1385.3Z" fill="#f00" fill-opacity="0.4" filter="url(#dff0000_5_0_13)"/>
<path d="M499.4 146.9L536.1 141.7L575.4 146.9L609.5 157.4L609.5 188.9L596.4 209.9L601.7 244.0L599.1 262.3L578.1 265.0L567.6 251.8L546.6 230.8L523.0 207.2L509.9 194.1L496.7 173.1Z" fill="#f00" fill-opacity="0.36" filter="url(#dff0000_5_0_13)"/>
</g>
<g clip-path="url(#iceclip)">
<rect x="0" y="0" width="760" height="1460" fill="#ff0000"/>
<path d="M412.5 142.4L471.3 163.4L534.3 192.8L576.2 255.7L597.2 339.7L618.2 423.6L639.2 507.6L618.2 570.5L588.8 541.2L576.2 507.6L563.6 465.6L546.9 423.6L530.1 381.7L513.3 348.1L492.3 306.1L471.3 264.1L450.3 222.2L429.3 188.6ZM51.6 222.2L156.5 222.2L156.5 381.7L93.5 339.7L60.0 297.7Z" fill="#ffc000" fill-opacity="0.45" filter="url(#dffc000_16_0_4)"/>
<path d="M200.6 230.6L227.9 213.8L244.6 201.2L261.4 188.6L278.2 171.8L286.6 163.4L303.4 171.8L320.2 167.6L337.0 159.2L358.0 150.8L374.8 146.6L383.2 142.4L399.9 146.6L420.9 163.4L446.1 188.6L471.3 222.2L492.3 264.1L513.3 306.1L534.3 348.1L551.0 381.7L567.8 423.6L580.4 465.6L593.0 507.6L601.4 541.2L614.0 570.5L614.0 803.9L605.6 804.6L576.2 913.8L534.3 997.7L429.3 1081.7L387.4 1123.6L366.4 1165.6L345.4 1249.5L303.4 1333.5L261.4 1358.7L156.5 1358.7L156.5 1333.5L185.9 1249.5L194.3 1207.6L206.9 1165.6L223.7 1123.6L227.9 1039.7L236.3 955.7L238.4 871.8L227.9 787.8L219.5 703.9L211.1 591.5L209.0 486.6L202.7 381.7L200.6 297.7Z" fill="#ffc000" fill-opacity="1" filter="url(#dffc000_10_0_4)"/>
<path d="M219.5 276.7L236.3 255.7L261.4 230.6L282.4 205.4L303.4 192.8L328.6 184.4L353.8 176.0L374.8 159.2L383.2 150.8L395.7 159.2L408.3 180.2L429.3 222.2L450.3 264.1L471.3 306.1L492.3 348.1L513.3 394.2L534.3 444.6L546.9 486.6L551.0 528.6L555.2 591.5L563.6 675.5L567.8 803.9L567.8 804.6L551.0 808.8L534.3 825.6L504.9 821.4L483.9 829.8L479.7 871.8L483.9 901.2L492.3 938.9L471.3 972.5L454.5 980.9L437.7 959.9L412.5 955.7L387.4 964.1L366.4 955.7L349.6 922.2L324.4 880.2L299.2 838.2L278.2 796.2L261.4 754.3L244.6 703.9L257.2 738.4L244.6 683.9L219.5 658.7L236.3 612.5L227.9 549.5L219.5 465.6L215.3 381.7Z" fill="#00ff00" fill-opacity="1" filter="url(#d00ff00_9_0_4)"/>
<path d="M261.4 1018.7L303.4 1006.1L311.8 1060.7L303.4 1123.6L278.2 1144.6L261.4 1102.6ZM244.6 1249.5L269.8 1249.5L274.0 1312.5L253.0 1316.7Z" fill="#00ff00" fill-opacity="0.5" filter="url(#d00ff00_10_0_4)"/>
<path d="M483.9 829.8L504.9 821.4L534.3 825.6L551.0 842.4L546.9 880.2L530.1 905.4L496.5 905.4L479.7 871.8ZM160.7 1081.7L227.9 1081.7L219.5 1165.6L194.3 1207.6L177.5 1249.5L160.7 1249.5Z" fill="#ff0000" fill-opacity="0.8" filter="url(#dff0000_8_0_4)"/>
<path d="M282.4 972.5L303.4 955.7L345.4 947.3L387.4 955.7L408.3 972.5L412.5 1006.1L404.1 1039.7L387.4 1060.7L345.4 1064.9L303.4 1056.5L286.6 1022.9ZM303.4 1081.7L345.4 1073.3L353.8 1123.6L337.0 1207.6L311.8 1207.6Z" fill="#ff0000" fill-opacity="0.6" filter="url(#dff0000_10_0_4)"/>
<path d="M278.2 318.7L303.4 255.7L328.6 222.2L345.4 255.7L358.0 318.7L374.8 381.7L399.9 444.6L429.3 507.6L471.3 541.2L492.3 570.5L450.3 549.5L408.3 528.6L387.4 486.6L366.4 465.6L345.4 423.6L324.4 402.6L303.4 381.7L282.4 402.6L269.8 444.6L261.4 381.7Z" fill="#0000ff" fill-opacity="0.55" filter="url(#d0000ff_14_0_4)"/>
<path d="M387.4 486.6L429.3 486.6L492.3 528.6L534.3 591.5L546.9 675.5L538.5 759.4L530.1 803.9L471.3 803.9L492.3 696.4L521.7 654.5L521.7 612.5L492.3 570.5L450.3 549.5L408.3 528.6Z" fill="#0000ff" fill-opacity="0.5" filter="url(#d0000ff_12_0_4)"/>
<path d="M269.8 444.6L282.4 402.6L303.4 381.7L324.4 402.6L345.4 423.6L366.4 465.6L387.4 486.6L408.3 528.6L450.3 549.5L492.3 570.5L521.7 612.5L521.7 654.5L496.5 696.4L492.3 703.9L488.1 745.9L483.9 808.8L471.3 842.4L437.7 884.4L408.3 892.8L374.8 888.6L353.8 863.4L328.6 821.4L303.4 787.8L282.4 745.9L269.8 703.9L269.8 683.9L238.4 660.8L261.4 633.5L274.0 591.5L261.4 507.6Z" fill="#0000ff" fill-opacity="1" filter="url(#d0000ff_8_0_4)"/>
<path d="M167.9 900.0L199.4 900.0L194.1 952.5L183.6 1004.9L167.9 1018.0L162.6 978.7Z" fill="#000" fill-opacity="0.6" filter="url(#d000000_4_0_3)"/>
<path d="M170.5 869.7L199.4 859.2L202.0 896.0L196.7 950.0L170.5 950.0Z" fill="#000" fill-opacity="0.6" filter="url(#d000000_4_0_3)"/>
<path d="M152.2 450.0L181.0 450.0L181.0 654.6L167.9 654.6L160.0 596.9L154.8 528.7Z" fill="#000" fill-opacity="0.25" filter="url(#d000000_4_0_3)"/>
<path d="M157.4 1025.9L173.1 1025.9L173.1 1330.2L160.0 1330.2Z" fill="#000" fill-opacity="0.3" filter="url(#d000000_4_0_3)"/>
</g>
<g clip-path="url(#landclip)"><use href="#stripes" fill="#000"/></g>
<use href="#fjords"/>
</g>
<g transform="translate(1612.4 -10.3)">
<use href="#land" fill="#000" filter="url(#rough)"/>
<g clip-path="url(#landclip)">
<path d="M237.4 115.4L262.3 99.7L301.7 94.4L341.0 89.2L367.3 78.7L380.4 60.3L419.7 47.2L459.1 44.6L500.0 52.5L523.0 68.2L523.0 89.2L536.1 99.7L562.3 104.9L588.6 94.4L614.8 104.9L614.8 136.4L606.9 157.4L588.6 162.6L562.3 157.4L549.2 131.2L509.9 125.9L483.6 146.9L457.4 157.4L431.2 146.9L418.0 133.8L404.9 131.2L378.7 131.2L367.3 146.9L341.0 157.4L314.8 173.1L288.6 157.4L262.3 146.9L236.1 131.2Z" fill="#f00" fill-opacity="0.36" filter="url(#dff0000_5_0_13)"/>
<path d="M578.1 262.3L601.7 262.3L609.5 314.8L627.9 341.0L641.0 393.5L635.8 432.8L654.1 459.1L654.1 500.0L627.9 500.0L614.8 446.0L575.4 425.0L565.0 409.2L570.2 393.5L578.1 372.5L575.4 354.1L580.7 327.9Z" fill="#f00" fill-opacity="0.5" filter="url(#dff0000_5_0_13)"/>
<path d="M627.9 502.5L654.1 502.5L641.0 554.9L614.8 581.2L601.7 633.6L614.8 686.1L627.9 738.6L614.8 791.0L627.9 817.3L667.3 804.1L680.4 830.4L641.0 869.7L588.6 909.1L562.3 935.3L546.6 950.0L483.6 950.0L502.0 916.9L528.2 896.0L536.1 880.2L530.8 859.2L549.2 830.4L544.0 817.3L554.5 777.9L551.8 751.7L557.1 733.3L544.0 717.6L536.1 699.2L551.8 659.9L536.1 620.5L530.8 602.2L549.2 568.0L575.4 549.7L601.7 541.8Z" fill="#f00" fill-opacity="0.46" filter="url(#dff0000_5_0_13)"/>
<path d="M483.6 949.8L546.6 949.8L536.1 978.7L523.0 1004.9L496.7 1036.4L470.5 1057.4L431.2 1081.0L415.4 1067.9L415.4 1025.9L425.9 1010.2L446.9 1004.9L470.5 999.7L488.9 986.6L502.0 973.5Z" fill="#f00" fill-opacity="0.46" filter="url(#dff0000_5_0_13)"/>
<path d="M102.3 999.7L144.3 999.7L144.3 1046.9L125.9 1046.9L104.9 1031.2Z" fill="#f00" fill-opacity="0.5" filter="url(#dff0000_5_0_13)"/>
<path d="M125.9 1149.2L144.3 1149.2L144.3 1222.7L128.5 1222.7Z" fill="#f00" fill-opacity="0.5" filter="url(#dff0000_5_0_13)"/>
<path d="M39.3 288.6L118.0 262.3L146.9 288.6L118.0 327.9L86.6 335.8L52.5 348.9Z" fill="#f00" fill-opacity="0.5" filter="url(#dff0000_5_0_13)"/>
<path d="M262.3 1332.8L288.6 1241.0L314.8 1241.0L301.7 1319.7L288.6 1372.2L275.4 1385.3Z" fill="#f00" fill-opacity="0.4" filter="url(#dff0000_5_0_13)"/>
<path d="M499.4 146.9L536.1 141.7L575.4 146.9L609.5 157.4L609.5 188.9L596.4 209.9L601.7 244.0L599.1 262.3L578.1 265.0L567.6 251.8L546.6 230.8L523.0 207.2L509.9 194.1L496.7 173.1Z" fill="#f00" fill-opacity="0.36" filter="url(#dff0000_5_0_13)"/>
</g>
<g clip-path="url(#iceclip)">
<rect x="0" y="0" width="760" height="1460" fill="#ff0000"/>
<path d="M412.5 142.4L471.3 163.4L534.3 192.8L576.2 255.7L597.2 339.7L618.2 423.6L639.2 507.6L618.2 570.5L588.8 541.2L576.2 507.6L563.6 465.6L546.9 423.6L530.1 381.7L513.3 348.1L492.3 306.1L471.3 264.1L450.3 222.2L429.3 188.6ZM51.6 222.2L156.5 222.2L156.5 381.7L93.5 339.7L60.0 297.7Z" fill="#ffc000" fill-opacity="0.45" filter="url(#dffc000_16_0_4)"/>
<path d="M200.6 230.6L227.9 213.8L244.6 201.2L261.4 188.6L278.2 171.8L286.6 163.4L303.4 171.8L320.2 167.6L337.0 159.2L358.0 150.8L374.8 146.6L383.2 142.4L399.9 146.6L420.9 163.4L446.1 188.6L471.3 222.2L492.3 264.1L513.3 306.1L534.3 348.1L551.0 381.7L567.8 423.6L580.4 465.6L593.0 507.6L601.4 541.2L614.0 570.5L614.0 803.9L605.6 804.6L576.2 913.8L534.3 997.7L429.3 1081.7L387.4 1123.6L366.4 1165.6L345.4 1249.5L303.4 1333.5L261.4 1358.7L156.5 1358.7L156.5 1333.5L185.9 1249.5L194.3 1207.6L206.9 1165.6L223.7 1123.6L227.9 1039.7L236.3 955.7L238.4 871.8L227.9 787.8L219.5 703.9L211.1 591.5L209.0 486.6L202.7 381.7L200.6 297.7Z" fill="#ffc000" fill-opacity="1" filter="url(#dffc000_10_0_4)"/>
<path d="M201.6 283.1L218.4 270.5L239.4 249.5L260.4 228.6L277.2 211.8L294.0 195.0L315.0 190.8L336.0 182.4L356.9 174.0L369.5 157.2L377.9 148.8L390.5 153.0L403.1 169.8L419.9 199.2L440.9 237.0L461.9 278.9L482.9 320.9L503.9 367.1L520.6 409.0L533.2 451.0L541.6 493.0L545.8 555.9L554.2 681.9L562.6 810.3L554.2 811.0L550.0 815.2L537.4 848.8L512.2 840.4L491.3 848.8L482.9 878.2L491.3 903.4L487.1 945.3L470.3 978.9L449.3 995.7L419.9 983.1L394.7 966.3L365.3 962.1L344.4 1004.1L336.0 1046.1L327.6 1088.1L323.4 1130.0L319.2 1151.0L306.6 1172.0L298.2 1214.0L289.8 1255.9L281.4 1297.9L268.8 1323.1L256.2 1323.1L247.8 1297.9L252.0 1255.9L260.4 1214.0L268.8 1172.0L277.2 1130.0L285.6 1088.1L294.0 1046.1L302.4 1004.1L319.2 962.1L327.6 920.2L306.6 878.2L285.6 836.2L264.6 794.2L247.8 752.3L235.2 710.3L243.6 765.8L235.2 702.8L218.4 669.3L205.8 656.7L214.2 618.9L205.8 555.9L201.6 472.0L197.4 388.1Z" fill="#00ff00" fill-opacity="1" filter="url(#d00ff00_9_0_4)"/>
<path d="M491.3 848.8L512.2 840.4L541.6 844.6L554.2 861.4L550.0 899.2L533.2 920.2L503.9 920.2L487.1 886.6ZM193.3 899.2L218.4 899.2L239.4 962.1L226.8 1046.1L201.6 1130.0L184.9 1172.0L163.9 1193.0L168.1 1130.0L176.5 1046.1L184.9 962.1Z" fill="#ff0000" fill-opacity="0.7" filter="url(#dff0000_8_0_4)"/>
<path d="M377.9 995.7L411.5 995.7L415.7 1029.3L386.3 1041.9L369.5 1020.9Z" fill="#ff0000" fill-opacity="0.6" filter="url(#dff0000_8_0_4)"/>
<path d="M252.0 304.1L268.8 270.5L294.0 237.0L319.2 211.8L344.4 199.2L369.5 178.2L386.3 186.6L398.9 220.2L411.5 262.1L428.3 304.1L449.3 346.1L470.3 388.1L487.1 430.0L503.9 472.0L512.2 514.0L516.4 555.9L512.2 597.9L508.0 639.9L516.4 681.9L524.8 744.8L537.4 710.3L533.2 752.3L524.8 794.2L508.0 836.2L491.3 848.8L482.9 878.2L470.3 928.6L453.5 945.3L428.3 928.6L394.7 928.6L365.3 911.8L336.0 878.2L310.8 836.2L289.8 794.2L273.0 752.3L260.4 710.3L264.6 744.8L252.0 690.3L226.8 665.1L252.0 639.9L260.4 597.9L256.2 555.9L247.8 493.0L239.4 430.0L243.6 367.1Z" fill="#00ffff" fill-opacity="1" filter="url(#d00ffff_9_0_4)"/>
<path d="M252.0 304.1L268.8 270.5L294.0 237.0L319.2 211.8L344.4 199.2L369.5 178.2L386.3 186.6L398.9 220.2L411.5 262.1L428.3 304.1L449.3 346.1L470.3 388.1L487.1 430.0L503.9 472.0L512.2 514.0L516.4 555.9L512.2 597.9L508.0 639.9L516.4 681.9L524.8 744.8L537.4 710.3L533.2 752.3L524.8 794.2L508.0 836.2L491.3 848.8L482.9 878.2L470.3 928.6L453.5 945.3L428.3 928.6L394.7 928.6L365.3 911.8L336.0 878.2L310.8 836.2L289.8 794.2L273.0 752.3L260.4 710.3L264.6 744.8L252.0 690.3L226.8 665.1L252.0 639.9L260.4 597.9L256.2 555.9L247.8 493.0L239.4 430.0L243.6 367.1Z" fill="#0000ff" fill-opacity="0.42" filter="url(#d0000ff_16_0_4)"/>
<path d="M285.6 325.1L302.4 262.1L327.6 228.6L352.7 220.2L369.5 245.3L386.3 304.1L403.1 367.1L419.9 430.0L436.7 493.0L449.3 555.9L436.7 597.9L407.3 576.9L386.3 555.9L369.5 514.0L352.7 472.0L331.8 451.0L315.0 409.0L302.4 346.1Z" fill="#0000ff" fill-opacity="0.35" filter="url(#d0000ff_14_0_4)"/>
<path d="M260.4 451.0L268.8 367.1L285.6 325.1L302.4 346.1L315.0 409.0L331.8 451.0L352.7 472.0L369.5 514.0L386.3 555.9L407.3 576.9L436.7 597.9L470.3 618.9L495.5 648.3L491.3 702.8L470.3 744.8L487.1 786.8L491.3 710.3L487.1 752.3L478.7 815.2L461.9 857.2L428.3 890.8L394.7 886.6L365.3 869.8L336.0 836.2L310.8 794.2L294.0 752.3L281.4 710.3L277.2 744.8L268.8 681.9L260.4 648.3L277.2 618.9L268.8 576.9L256.2 514.0Z" fill="#0000ff" fill-opacity="0.8" filter="url(#d0000ff_12_0_4)"/>
<path d="M167.9 900.0L199.4 900.0L194.1 952.5L183.6 1004.9L167.9 1018.0L162.6 978.7Z" fill="#000" fill-opacity="0.6" filter="url(#d000000_4_0_3)"/>
<path d="M170.5 869.7L199.4 859.2L202.0 896.0L196.7 950.0L170.5 950.0Z" fill="#000" fill-opacity="0.6" filter="url(#d000000_4_0_3)"/>
<path d="M152.2 450.0L181.0 450.0L181.0 654.6L167.9 654.6L160.0 596.9L154.8 528.7Z" fill="#000" fill-opacity="0.25" filter="url(#d000000_4_0_3)"/>
<path d="M157.4 1025.9L173.1 1025.9L173.1 1330.2L160.0 1330.2Z" fill="#000" fill-opacity="0.3" filter="url(#d000000_4_0_3)"/>
</g>
<g clip-path="url(#landclip)"><use href="#stripes" fill="#000"/></g>
<use href="#fjords"/>
</g>
<g id="plotc">
<rect x="137.4" y="1651.8" width="472.4" height="498.4" fill="#000"/>
<g shape-rendering="crispEdges">
<path fill="#3a003e" d="M383.0 1663.0H411.4V1672.8H383.0zM581.5 1663.0H590.9V1672.8H581.5zM364.2 1672.8H392.5V1682.5H364.2zM373.6 1682.5H392.5V1692.3H373.6zM373.6 1692.3H383.0V1702.0H373.6zM373.6 1702.0H383.0V1711.8H373.6zM364.2 1731.2H373.6V1741.0H364.2zM354.7 1750.7H364.2V1760.5H354.7zM345.3 1760.5H354.7V1770.2H345.3zM307.5 1818.9H316.9V1828.7H307.5zM250.8 1838.4H279.1V1848.2H250.8zM194.1 1848.2H203.5V1857.9H194.1zM279.1 1848.2H288.6V1857.9H279.1zM298.0 1848.2H307.5V1857.9H298.0zM184.6 1857.9H194.1V1867.6H184.6zM288.6 1857.9H307.5V1867.6H288.6zM175.2 1867.6H184.6V1877.4H175.2zM298.0 1867.6H307.5V1877.4H298.0zM298.0 1877.4H316.9V1887.1H298.0zM175.2 1887.1H184.6V1896.9H175.2zM175.2 1896.9H184.6V1906.6H175.2zM184.6 1906.6H194.1V1916.4H184.6zM307.5 1906.6H316.9V1916.4H307.5zM184.6 1916.4H194.1V1926.1H184.6zM288.6 1916.4H316.9V1926.1H288.6zM194.1 1926.1H213.0V1935.8H194.1zM298.0 1926.1H326.4V1935.8H298.0zM213.0 1935.8H231.9V1945.6H213.0zM250.8 1935.8H260.2V1945.6H250.8zM269.7 1935.8H279.1V1945.6H269.7zM288.6 1935.8H298.0V1945.6H288.6zM241.3 1945.6H298.0V1955.3H241.3zM269.7 1955.3H298.0V1965.1H269.7zM241.3 1965.1H269.7V1974.8H241.3zM231.9 1974.8H241.3V1984.6H231.9zM231.9 1984.6H241.3V1994.3H231.9zM241.3 1994.3H250.8V2004.0H241.3zM241.3 2004.0H260.2V2013.8H241.3zM241.3 2013.8H260.2V2023.5H241.3zM260.2 2023.5H269.7V2033.3H260.2zM260.2 2033.3H269.7V2043.0H260.2zM269.7 2043.0H288.6V2052.8H269.7zM279.1 2052.8H326.4V2062.5H279.1zM326.4 2062.5H345.3V2072.2H326.4zM364.2 2062.5H373.6V2072.2H364.2zM364.2 2072.2H420.8V2082.0H364.2zM515.3 2082.0H524.8V2091.7H515.3zM534.2 2082.0H609.8V2091.7H534.2z"/>
<path fill="#480051" d="M203.5 1848.2H213.0V1857.9H203.5zM269.7 1848.2H279.1V1857.9H269.7zM279.1 1857.9H288.6V1867.6H279.1zM288.6 1867.6H298.0V1877.4H288.6zM175.2 1877.4H184.6V1887.1H175.2zM298.0 1887.1H316.9V1896.9H298.0zM307.5 1896.9H316.9V1906.6H307.5zM288.6 1906.6H307.5V1916.4H288.6zM316.9 1906.6H326.4V1916.4H316.9zM194.1 1916.4H213.0V1926.1H194.1zM316.9 1916.4H326.4V1926.1H316.9zM213.0 1926.1H222.4V1935.8H213.0zM288.6 1926.1H298.0V1935.8H288.6zM231.9 1935.8H250.8V1945.6H231.9zM260.2 1935.8H269.7V1945.6H260.2zM279.1 1935.8H288.6V1945.6H279.1zM298.0 1935.8H316.9V1945.6H298.0zM298.0 1945.6H316.9V1955.3H298.0zM298.0 1955.3H316.9V1965.1H298.0zM137.4 1965.1H146.8V1974.8H137.4zM269.7 1965.1H288.6V1974.8H269.7zM241.3 1974.8H260.2V1984.6H241.3zM241.3 1984.6H260.2V1994.3H241.3zM250.8 1994.3H260.2V2004.0H250.8zM260.2 2013.8H269.7V2023.5H260.2zM269.7 2023.5H279.1V2033.3H269.7zM269.7 2033.3H288.6V2043.0H269.7zM288.6 2043.0H298.0V2052.8H288.6zM326.4 2052.8H335.8V2062.5H326.4zM345.3 2062.5H364.2V2072.2H345.3zM373.6 2062.5H383.0V2072.2H373.6zM420.8 2072.2H430.3V2082.0H420.8zM449.2 2072.2H458.6V2082.0H449.2z"/>
<path fill="#520068" d="M213.0 1848.2H222.4V1857.9H213.0zM430.3 2072.2H439.7V2082.0H430.3z"/>
<path fill="#57007d" d="M411.4 1663.0H420.8V1672.8H411.4zM392.5 1672.8H401.9V1682.5H392.5zM383.0 1692.3H392.5V1702.0H383.0zM373.6 1711.8H383.0V1721.5H373.6zM364.2 1741.0H373.6V1750.7H364.2zM345.3 1770.2H354.7V1780.0H345.3zM335.8 1780.0H345.3V1789.7H335.8zM326.4 1789.7H335.8V1799.4H326.4zM326.4 1799.4H335.8V1809.2H326.4zM316.9 1809.2H326.4V1818.9H316.9zM307.5 1828.7H316.9V1838.4H307.5zM307.5 1838.4H316.9V1848.2H307.5zM222.4 1848.2H269.7V1857.9H222.4zM307.5 1848.2H316.9V1857.9H307.5zM194.1 1857.9H213.0V1867.6H194.1zM307.5 1857.9H316.9V1867.6H307.5zM184.6 1867.6H203.5V1877.4H184.6zM279.1 1867.6H288.6V1877.4H279.1zM307.5 1867.6H316.9V1877.4H307.5zM184.6 1877.4H194.1V1887.1H184.6zM279.1 1877.4H298.0V1887.1H279.1zM184.6 1887.1H194.1V1896.9H184.6zM279.1 1887.1H298.0V1896.9H279.1zM316.9 1887.1H326.4V1896.9H316.9zM184.6 1896.9H194.1V1906.6H184.6zM288.6 1896.9H307.5V1906.6H288.6zM316.9 1896.9H326.4V1906.6H316.9zM194.1 1906.6H203.5V1916.4H194.1zM279.1 1906.6H288.6V1916.4H279.1zM326.4 1906.6H335.8V1916.4H326.4zM213.0 1916.4H222.4V1926.1H213.0zM279.1 1916.4H288.6V1926.1H279.1zM326.4 1916.4H335.8V1926.1H326.4zM222.4 1926.1H288.6V1935.8H222.4zM326.4 1926.1H335.8V1935.8H326.4zM316.9 1935.8H335.8V1945.6H316.9zM316.9 1945.6H345.3V1955.3H316.9zM316.9 1955.3H354.7V1965.1H316.9zM288.6 1965.1H298.0V1974.8H288.6zM260.2 1974.8H279.1V1984.6H260.2zM260.2 1984.6H269.7V1994.3H260.2zM260.2 1994.3H269.7V2004.0H260.2zM260.2 2004.0H269.7V2013.8H260.2zM269.7 2013.8H279.1V2023.5H269.7zM279.1 2023.5H288.6V2033.3H279.1zM288.6 2033.3H307.5V2043.0H288.6zM298.0 2043.0H326.4V2052.8H298.0zM335.8 2052.8H364.2V2062.5H335.8zM383.0 2062.5H401.9V2072.2H383.0zM439.7 2072.2H449.2V2082.0H439.7zM458.6 2072.2H477.5V2082.0H458.6zM600.4 2072.2H609.8V2082.0H600.4z"/>
<path fill="#54008c" d="M401.9 2062.5H420.8V2072.2H401.9zM477.5 2072.2H496.4V2082.0H477.5z"/>
<path fill="#51009b" d="M373.6 1721.5H383.0V1731.2H373.6zM213.0 1857.9H279.1V1867.6H213.0zM203.5 1867.6H213.0V1877.4H203.5zM269.7 1867.6H279.1V1877.4H269.7zM194.1 1877.4H203.5V1887.1H194.1zM269.7 1877.4H279.1V1887.1H269.7zM316.9 1877.4H326.4V1887.1H316.9zM194.1 1887.1H203.5V1896.9H194.1zM269.7 1887.1H279.1V1896.9H269.7zM194.1 1896.9H203.5V1906.6H194.1zM279.1 1896.9H288.6V1906.6H279.1zM326.4 1896.9H335.8V1906.6H326.4zM203.5 1906.6H222.4V1916.4H203.5zM269.7 1906.6H279.1V1916.4H269.7zM222.4 1916.4H279.1V1926.1H222.4zM335.8 1926.1H345.3V1935.8H335.8zM335.8 1935.8H345.3V1945.6H335.8zM345.3 1945.6H354.7V1955.3H345.3zM298.0 1965.1H307.5V1974.8H298.0zM279.1 1974.8H298.0V1984.6H279.1zM269.7 1984.6H288.6V1994.3H269.7zM269.7 1994.3H288.6V2004.0H269.7zM269.7 2004.0H288.6V2013.8H269.7zM279.1 2013.8H298.0V2023.5H279.1zM288.6 2023.5H307.5V2033.3H288.6zM307.5 2033.3H326.4V2043.0H307.5zM326.4 2043.0H354.7V2052.8H326.4zM364.2 2052.8H383.0V2062.5H364.2zM420.8 2062.5H439.7V2072.2H420.8zM496.4 2072.2H524.8V2082.0H496.4z"/>
<path fill="#4b00b4" d="M401.9 1672.8H411.4V1682.5H401.9zM392.5 1682.5H401.9V1692.3H392.5zM383.0 1702.0H392.5V1711.8H383.0zM373.6 1731.2H383.0V1741.0H373.6zM364.2 1750.7H373.6V1760.5H364.2zM354.7 1760.5H364.2V1770.2H354.7zM316.9 1818.9H326.4V1828.7H316.9zM213.0 1867.6H222.4V1877.4H213.0zM250.8 1867.6H269.7V1877.4H250.8zM316.9 1867.6H326.4V1877.4H316.9zM203.5 1877.4H213.0V1887.1H203.5zM260.2 1877.4H269.7V1887.1H260.2zM203.5 1887.1H213.0V1896.9H203.5zM260.2 1887.1H269.7V1896.9H260.2zM326.4 1887.1H335.8V1896.9H326.4zM203.5 1896.9H213.0V1906.6H203.5zM269.7 1896.9H279.1V1906.6H269.7zM222.4 1906.6H269.7V1916.4H222.4zM335.8 1916.4H345.3V1926.1H335.8zM345.3 1935.8H354.7V1945.6H345.3zM354.7 1955.3H364.2V1965.1H354.7zM307.5 1965.1H316.9V1974.8H307.5zM298.0 1974.8H307.5V1984.6H298.0zM288.6 1984.6H298.0V1994.3H288.6zM288.6 1994.3H298.0V2004.0H288.6zM288.6 2004.0H298.0V2013.8H288.6zM298.0 2013.8H307.5V2023.5H298.0zM307.5 2023.5H316.9V2033.3H307.5zM326.4 2033.3H335.8V2043.0H326.4zM354.7 2043.0H364.2V2052.8H354.7zM383.0 2052.8H392.5V2062.5H383.0zM439.7 2062.5H468.1V2072.2H439.7zM524.8 2072.2H600.4V2082.0H524.8z"/>
<path fill="#4400d1" d="M392.5 2052.8H401.9V2062.5H392.5zM468.1 2062.5H487.0V2072.2H468.1z"/>
<path fill="#3900e7" d="M335.8 1789.7H345.3V1799.4H335.8zM222.4 1867.6H250.8V1877.4H222.4zM213.0 1896.9H222.4V1906.6H213.0zM260.2 1896.9H269.7V1906.6H260.2zM335.8 1906.6H345.3V1916.4H335.8zM354.7 1945.6H364.2V1955.3H354.7zM316.9 1965.1H326.4V1974.8H316.9zM307.5 1974.8H316.9V1984.6H307.5zM298.0 1984.6H307.5V1994.3H298.0zM298.0 1994.3H307.5V2004.0H298.0zM298.0 2004.0H307.5V2013.8H298.0zM307.5 2013.8H316.9V2023.5H307.5zM316.9 2023.5H326.4V2033.3H316.9zM335.8 2033.3H354.7V2043.0H335.8zM364.2 2043.0H373.6V2052.8H364.2zM401.9 2052.8H411.4V2062.5H401.9zM487.0 2062.5H505.9V2072.2H487.0z"/>
<path fill="#2900f6" d="M213.0 1877.4H222.4V1887.1H213.0zM241.3 1877.4H260.2V1887.1H241.3zM213.0 1887.1H222.4V1896.9H213.0zM250.8 1887.1H260.2V1896.9H250.8zM222.4 1896.9H260.2V1906.6H222.4zM307.5 1984.6H316.9V1994.3H307.5zM307.5 1994.3H316.9V2004.0H307.5zM307.5 2004.0H316.9V2013.8H307.5zM316.9 2013.8H326.4V2023.5H316.9zM326.4 2023.5H335.8V2033.3H326.4zM354.7 2033.3H364.2V2043.0H354.7zM373.6 2043.0H383.0V2052.8H373.6zM411.4 2052.8H420.8V2062.5H411.4zM505.9 2062.5H543.7V2072.2H505.9zM600.4 2062.5H609.8V2072.2H600.4z"/>
<path fill="#1800ff" d="M383.0 2043.0H392.5V2052.8H383.0zM420.8 2052.8H430.3V2062.5H420.8zM543.7 2062.5H553.1V2072.2H543.7z"/>
<path fill="#0200ff" d="M420.8 1663.0H430.3V1672.8H420.8zM572.0 1663.0H581.5V1672.8H572.0zM590.9 1663.0H600.4V1672.8H590.9zM411.4 1672.8H420.8V1682.5H411.4zM581.5 1672.8H590.9V1682.5H581.5zM401.9 1682.5H411.4V1692.3H401.9zM392.5 1692.3H401.9V1702.0H392.5zM392.5 1702.0H401.9V1711.8H392.5zM383.0 1711.8H392.5V1721.5H383.0zM383.0 1721.5H392.5V1731.2H383.0zM373.6 1741.0H383.0V1750.7H373.6zM364.2 1760.5H373.6V1770.2H364.2zM354.7 1770.2H364.2V1780.0H354.7zM345.3 1780.0H354.7V1789.7H345.3zM335.8 1799.4H345.3V1809.2H335.8zM326.4 1809.2H335.8V1818.9H326.4zM326.4 1818.9H335.8V1828.7H326.4zM316.9 1828.7H326.4V1838.4H316.9zM316.9 1838.4H326.4V1848.2H316.9zM316.9 1848.2H326.4V1857.9H316.9zM316.9 1857.9H326.4V1867.6H316.9zM222.4 1877.4H241.3V1887.1H222.4zM326.4 1877.4H335.8V1887.1H326.4zM222.4 1887.1H250.8V1896.9H222.4zM335.8 1887.1H345.3V1896.9H335.8zM335.8 1896.9H345.3V1906.6H335.8zM345.3 1926.1H354.7V1935.8H345.3zM354.7 1935.8H364.2V1945.6H354.7zM364.2 1955.3H373.6V1965.1H364.2zM326.4 1965.1H354.7V1974.8H326.4zM316.9 1974.8H335.8V1984.6H316.9zM316.9 1984.6H326.4V1994.3H316.9zM316.9 1994.3H326.4V2004.0H316.9zM316.9 2004.0H326.4V2013.8H316.9zM326.4 2013.8H345.3V2023.5H326.4zM335.8 2023.5H364.2V2033.3H335.8zM364.2 2033.3H373.6V2043.0H364.2zM392.5 2043.0H411.4V2052.8H392.5zM430.3 2052.8H487.0V2062.5H430.3zM553.1 2062.5H600.4V2072.2H553.1z"/>
<path fill="#0017ff" d="M373.6 2033.3H392.5V2043.0H373.6zM411.4 2043.0H430.3V2052.8H411.4zM487.0 2052.8H505.9V2062.5H487.0z"/>
<path fill="#0030ff" d="M430.3 1663.0H439.7V1672.8H430.3zM383.0 1731.2H392.5V1741.0H383.0zM373.6 1750.7H383.0V1760.5H373.6zM345.3 1916.4H354.7V1926.1H345.3zM364.2 1945.6H373.6V1955.3H364.2zM373.6 1955.3H383.0V1965.1H373.6zM354.7 1965.1H383.0V1974.8H354.7zM335.8 1974.8H345.3V1984.6H335.8zM326.4 1984.6H335.8V1994.3H326.4zM326.4 1994.3H335.8V2004.0H326.4zM326.4 2004.0H345.3V2013.8H326.4zM345.3 2013.8H354.7V2023.5H345.3zM364.2 2023.5H373.6V2033.3H364.2zM392.5 2033.3H411.4V2043.0H392.5zM430.3 2043.0H449.2V2052.8H430.3zM505.9 2052.8H534.2V2062.5H505.9zM600.4 2052.8H609.8V2062.5H600.4z"/>
<path fill="#0043ff" d="M373.6 2023.5H401.9V2033.3H373.6zM411.4 2033.3H439.7V2043.0H411.4zM449.2 2043.0H477.5V2052.8H449.2zM534.2 2052.8H590.9V2062.5H534.2z"/>
<path fill="#0055ff" d="M326.4 1867.6H335.8V1877.4H326.4zM345.3 1906.6H354.7V1916.4H345.3zM383.0 1965.1H392.5V1974.8H383.0zM345.3 1974.8H364.2V1984.6H345.3zM335.8 1984.6H354.7V1994.3H335.8zM335.8 1994.3H354.7V2004.0H335.8zM345.3 2004.0H364.2V2013.8H345.3zM354.7 2013.8H392.5V2023.5H354.7zM401.9 2023.5H420.8V2033.3H401.9zM439.7 2033.3H458.6V2043.0H439.7zM477.5 2043.0H496.4V2052.8H477.5zM590.9 2052.8H600.4V2062.5H590.9z"/>
<path fill="#006aff" d="M392.5 2013.8H420.8V2023.5H392.5zM420.8 2023.5H439.7V2033.3H420.8zM458.6 2033.3H477.5V2043.0H458.6zM496.4 2043.0H515.3V2052.8H496.4z"/>
<path fill="#0083ff" d="M439.7 1663.0H449.2V1672.8H439.7zM600.4 1663.0H609.8V1672.8H600.4zM420.8 1672.8H430.3V1682.5H420.8zM572.0 1672.8H581.5V1682.5H572.0zM590.9 1672.8H600.4V1682.5H590.9zM411.4 1682.5H420.8V1692.3H411.4zM581.5 1682.5H600.4V1692.3H581.5zM401.9 1692.3H411.4V1702.0H401.9zM392.5 1711.8H401.9V1721.5H392.5zM383.0 1741.0H392.5V1750.7H383.0zM364.2 1770.2H373.6V1780.0H364.2zM354.7 1780.0H364.2V1789.7H354.7zM345.3 1789.7H354.7V1799.4H345.3zM345.3 1799.4H354.7V1809.2H345.3zM335.8 1809.2H345.3V1818.9H335.8zM335.8 1818.9H345.3V1828.7H335.8zM326.4 1828.7H335.8V1838.4H326.4zM326.4 1838.4H335.8V1848.2H326.4zM326.4 1848.2H335.8V1857.9H326.4zM326.4 1857.9H335.8V1867.6H326.4zM335.8 1877.4H345.3V1887.1H335.8zM345.3 1896.9H354.7V1906.6H345.3zM354.7 1926.1H364.2V1935.8H354.7zM364.2 1935.8H373.6V1945.6H364.2zM392.5 1965.1H411.4V1974.8H392.5zM364.2 1974.8H383.0V1984.6H364.2zM354.7 1984.6H420.8V1994.3H354.7zM354.7 1994.3H420.8V2004.0H354.7zM364.2 2004.0H420.8V2013.8H364.2zM420.8 2013.8H449.2V2023.5H420.8zM439.7 2023.5H468.1V2033.3H439.7zM477.5 2033.3H505.9V2043.0H477.5zM515.3 2043.0H543.7V2052.8H515.3z"/>
<path fill="#009cff" d="M581.5 1692.3H590.9V1702.0H581.5zM401.9 1702.0H411.4V1711.8H401.9zM373.6 1945.6H383.0V1955.3H373.6zM383.0 1955.3H392.5V1965.1H383.0zM411.4 1965.1H420.8V1974.8H411.4zM383.0 1974.8H477.5V1984.6H383.0zM420.8 1984.6H468.1V1994.3H420.8zM420.8 1994.3H468.1V2004.0H420.8zM420.8 2004.0H468.1V2013.8H420.8zM449.2 2013.8H477.5V2023.5H449.2zM468.1 2023.5H487.0V2033.3H468.1zM505.9 2033.3H524.8V2043.0H505.9zM543.7 2043.0H562.6V2052.8H543.7z"/>
<path fill="#00afff" d="M468.1 1984.6H477.5V1994.3H468.1zM468.1 1994.3H477.5V2004.0H468.1zM468.1 2004.0H477.5V2013.8H468.1zM477.5 2013.8H487.0V2023.5H477.5zM487.0 2023.5H505.9V2033.3H487.0zM524.8 2033.3H534.2V2043.0H524.8zM562.6 2043.0H581.5V2052.8H562.6z"/>
<path fill="#00c2ff" d="M354.7 1916.4H364.2V1926.1H354.7zM420.8 1965.1H430.3V1974.8H420.8zM477.5 1974.8H496.4V1984.6H477.5zM477.5 1984.6H487.0V1994.3H477.5zM477.5 1994.3H487.0V2004.0H477.5zM477.5 2004.0H487.0V2013.8H477.5zM487.0 2013.8H505.9V2023.5H487.0zM505.9 2023.5H524.8V2033.3H505.9zM534.2 2033.3H543.7V2043.0H534.2zM581.5 2043.0H609.8V2052.8H581.5z"/>
<path fill="#00daff" d="M487.0 1984.6H496.4V1994.3H487.0zM487.0 1994.3H496.4V2004.0H487.0zM487.0 2004.0H496.4V2013.8H487.0zM505.9 2013.8H515.3V2023.5H505.9zM524.8 2023.5H534.2V2033.3H524.8zM543.7 2033.3H553.1V2043.0H543.7z"/>
<path fill="#00f2ff" d="M449.2 1663.0H458.6V1672.8H449.2zM562.6 1663.0H572.0V1672.8H562.6zM430.3 1672.8H439.7V1682.5H430.3zM600.4 1672.8H609.8V1682.5H600.4zM420.8 1682.5H430.3V1692.3H420.8zM572.0 1682.5H581.5V1692.3H572.0zM411.4 1692.3H420.8V1702.0H411.4zM590.9 1692.3H600.4V1702.0H590.9zM581.5 1702.0H600.4V1711.8H581.5zM401.9 1711.8H411.4V1721.5H401.9zM581.5 1711.8H600.4V1721.5H581.5zM392.5 1721.5H401.9V1731.2H392.5zM392.5 1731.2H401.9V1741.0H392.5zM383.0 1750.7H392.5V1760.5H383.0zM373.6 1760.5H383.0V1770.2H373.6zM373.6 1770.2H383.0V1780.0H373.6zM364.2 1780.0H373.6V1789.7H364.2zM354.7 1789.7H364.2V1799.4H354.7zM345.3 1809.2H354.7V1818.9H345.3zM345.3 1818.9H354.7V1828.7H345.3zM335.8 1828.7H345.3V1838.4H335.8zM335.8 1838.4H345.3V1848.2H335.8zM335.8 1848.2H345.3V1857.9H335.8zM335.8 1857.9H345.3V1867.6H335.8zM335.8 1867.6H345.3V1877.4H335.8zM345.3 1877.4H354.7V1887.1H345.3zM345.3 1887.1H354.7V1896.9H345.3zM354.7 1906.6H364.2V1916.4H354.7zM364.2 1926.1H373.6V1935.8H364.2zM373.6 1935.8H383.0V1945.6H373.6zM430.3 1965.1H496.4V1974.8H430.3zM496.4 1974.8H515.3V1984.6H496.4zM496.4 1984.6H505.9V1994.3H496.4zM496.4 1994.3H505.9V2004.0H496.4zM496.4 2004.0H505.9V2013.8H496.4zM515.3 2013.8H524.8V2023.5H515.3zM534.2 2023.5H543.7V2033.3H534.2zM553.1 2033.3H609.8V2043.0H553.1z"/>
<path fill="#00fff3" d="M505.9 1984.6H515.3V1994.3H505.9zM505.9 1994.3H515.3V2004.0H505.9zM505.9 2004.0H515.3V2013.8H505.9zM543.7 2023.5H553.1V2033.3H543.7z"/>
<path fill="#00ffdb" d="M600.4 1682.5H609.8V1692.3H600.4zM411.4 1702.0H420.8V1711.8H411.4zM590.9 1721.5H600.4V1731.2H590.9zM392.5 1741.0H401.9V1750.7H392.5zM354.7 1799.4H364.2V1809.2H354.7zM354.7 1896.9H364.2V1906.6H354.7zM364.2 1916.4H373.6V1926.1H364.2zM383.0 1945.6H392.5V1955.3H383.0zM392.5 1955.3H401.9V1965.1H392.5zM496.4 1965.1H515.3V1974.8H496.4zM515.3 1974.8H524.8V1984.6H515.3zM515.3 1984.6H524.8V1994.3H515.3zM515.3 1994.3H524.8V2004.0H515.3zM515.3 2004.0H524.8V2013.8H515.3zM524.8 2013.8H534.2V2023.5H524.8zM553.1 2023.5H581.5V2033.3H553.1z"/>
<path fill="#00ffc2" d="M581.5 2023.5H590.9V2033.3H581.5z"/>
<path fill="#00ffa9" d="M515.3 1965.1H534.2V1974.8H515.3zM524.8 1974.8H534.2V1984.6H524.8zM524.8 1984.6H534.2V1994.3H524.8zM524.8 1994.3H534.2V2004.0H524.8zM524.8 2004.0H534.2V2013.8H524.8zM534.2 2013.8H543.7V2023.5H534.2zM590.9 2023.5H609.8V2033.3H590.9z"/>
<path fill="#00ff90" d="M543.7 2013.8H553.1V2023.5H543.7z"/>
<path fill="#00ff78" d="M458.6 1663.0H468.1V1672.8H458.6zM439.7 1672.8H449.2V1682.5H439.7zM430.3 1682.5H439.7V1692.3H430.3zM420.8 1692.3H430.3V1702.0H420.8zM572.0 1692.3H581.5V1702.0H572.0zM600.4 1692.3H609.8V1702.0H600.4zM600.4 1702.0H609.8V1711.8H600.4zM411.4 1711.8H420.8V1721.5H411.4zM600.4 1711.8H609.8V1721.5H600.4zM401.9 1721.5H411.4V1731.2H401.9zM581.5 1721.5H590.9V1731.2H581.5zM600.4 1721.5H609.8V1731.2H600.4zM401.9 1731.2H411.4V1741.0H401.9zM581.5 1731.2H609.8V1741.0H581.5zM392.5 1750.7H401.9V1760.5H392.5zM383.0 1760.5H392.5V1770.2H383.0zM364.2 1789.7H373.6V1799.4H364.2zM354.7 1809.2H364.2V1818.9H354.7zM345.3 1828.7H354.7V1838.4H345.3zM345.3 1838.4H354.7V1848.2H345.3zM345.3 1848.2H354.7V1857.9H345.3zM345.3 1857.9H354.7V1867.6H345.3zM345.3 1867.6H354.7V1877.4H345.3zM354.7 1887.1H364.2V1896.9H354.7zM373.6 1926.1H383.0V1935.8H373.6zM534.2 1965.1H553.1V1974.8H534.2zM534.2 1974.8H553.1V1984.6H534.2zM534.2 1984.6H543.7V1994.3H534.2zM534.2 1994.3H543.7V2004.0H534.2zM534.2 2004.0H543.7V2013.8H534.2zM553.1 2013.8H609.8V2023.5H553.1z"/>
<path fill="#00ff64" d="M543.7 1984.6H553.1V1994.3H543.7zM543.7 1994.3H553.1V2004.0H543.7zM543.7 2004.0H553.1V2013.8H543.7z"/>
<path fill="#00ff50" d="M590.9 1741.0H609.8V1750.7H590.9zM373.6 1780.0H383.0V1789.7H373.6zM364.2 1896.9H373.6V1906.6H364.2zM364.2 1906.6H373.6V1916.4H364.2zM383.0 1935.8H392.5V1945.6H383.0zM392.5 1945.6H401.9V1955.3H392.5zM401.9 1955.3H411.4V1965.1H401.9zM553.1 1965.1H581.5V1974.8H553.1zM553.1 1974.8H572.0V1984.6H553.1zM553.1 1984.6H609.8V1994.3H553.1zM553.1 1994.3H609.8V2004.0H553.1zM553.1 2004.0H609.8V2013.8H553.1z"/>
<path fill="#00ff3a" d="M581.5 1965.1H590.9V1974.8H581.5z"/>
<path fill="#00ff21" d="M354.7 1818.9H364.2V1828.7H354.7zM354.7 1877.4H364.2V1887.1H354.7zM373.6 1916.4H383.0V1926.1H373.6zM411.4 1955.3H609.8V1965.1H411.4zM590.9 1965.1H609.8V1974.8H590.9zM572.0 1974.8H609.8V1984.6H572.0z"/>
<path fill="#10ff00" d="M468.1 1663.0H487.0V1672.8H468.1zM553.1 1663.0H562.6V1672.8H553.1zM449.2 1672.8H468.1V1682.5H449.2zM562.6 1672.8H572.0V1682.5H562.6zM439.7 1682.5H458.6V1692.3H439.7zM562.6 1682.5H572.0V1692.3H562.6zM430.3 1692.3H449.2V1702.0H430.3zM562.6 1692.3H572.0V1702.0H562.6zM420.8 1702.0H439.7V1711.8H420.8zM572.0 1702.0H581.5V1711.8H572.0zM420.8 1711.8H430.3V1721.5H420.8zM572.0 1711.8H581.5V1721.5H572.0zM411.4 1721.5H420.8V1731.2H411.4zM572.0 1721.5H581.5V1731.2H572.0zM411.4 1731.2H420.8V1741.0H411.4zM572.0 1731.2H581.5V1741.0H572.0zM401.9 1741.0H411.4V1750.7H401.9zM572.0 1741.0H590.9V1750.7H572.0zM401.9 1750.7H411.4V1760.5H401.9zM572.0 1750.7H609.8V1760.5H572.0zM392.5 1760.5H401.9V1770.2H392.5zM581.5 1760.5H609.8V1770.2H581.5zM383.0 1770.2H392.5V1780.0H383.0zM600.4 1770.2H609.8V1780.0H600.4zM590.9 1780.0H609.8V1789.7H590.9zM373.6 1789.7H383.0V1799.4H373.6zM600.4 1789.7H609.8V1799.4H600.4zM364.2 1799.4H373.6V1809.2H364.2zM364.2 1809.2H373.6V1818.9H364.2zM354.7 1828.7H364.2V1838.4H354.7zM354.7 1838.4H364.2V1848.2H354.7zM354.7 1848.2H364.2V1857.9H354.7zM354.7 1857.9H364.2V1867.6H354.7zM354.7 1867.6H364.2V1877.4H354.7zM364.2 1887.1H373.6V1896.9H364.2zM373.6 1906.6H383.0V1916.4H373.6zM383.0 1926.1H392.5V1935.8H383.0zM392.5 1935.8H401.9V1945.6H392.5zM572.0 1935.8H609.8V1945.6H572.0zM401.9 1945.6H420.8V1955.3H401.9zM477.5 1945.6H609.8V1955.3H477.5z"/>
<path fill="#29ff00" d="M590.9 1770.2H600.4V1780.0H590.9zM515.3 1935.8H572.0V1945.6H515.3z"/>
<path fill="#41ff00" d="M581.5 1770.2H590.9V1780.0H581.5zM590.9 1789.7H600.4V1799.4H590.9zM600.4 1799.4H609.8V1809.2H600.4zM364.2 1818.9H373.6V1828.7H364.2zM364.2 1877.4H373.6V1887.1H364.2zM373.6 1896.9H383.0V1906.6H373.6zM383.0 1916.4H392.5V1926.1H383.0zM572.0 1926.1H609.8V1935.8H572.0zM401.9 1935.8H411.4V1945.6H401.9zM496.4 1935.8H515.3V1945.6H496.4z"/>
<path fill="#7aff00" d="M600.4 1809.2H609.8V1818.9H600.4zM590.9 1916.4H609.8V1926.1H590.9zM505.9 1926.1H572.0V1935.8H505.9zM487.0 1935.8H496.4V1945.6H487.0zM420.8 1945.6H477.5V1955.3H420.8z"/>
<path fill="#90ff00" d="M572.0 1809.2H600.4V1818.9H572.0zM543.7 1916.4H590.9V1926.1H543.7z"/>
<path fill="#a9ff00" d="M487.0 1663.0H505.9V1672.8H487.0zM543.7 1663.0H553.1V1672.8H543.7zM468.1 1672.8H477.5V1682.5H468.1zM553.1 1672.8H562.6V1682.5H553.1zM458.6 1682.5H468.1V1692.3H458.6zM449.2 1692.3H458.6V1702.0H449.2zM439.7 1702.0H449.2V1711.8H439.7zM562.6 1702.0H572.0V1711.8H562.6zM430.3 1711.8H439.7V1721.5H430.3zM562.6 1711.8H572.0V1721.5H562.6zM420.8 1721.5H430.3V1731.2H420.8zM562.6 1721.5H572.0V1731.2H562.6zM420.8 1731.2H430.3V1741.0H420.8zM562.6 1731.2H572.0V1741.0H562.6zM411.4 1741.0H420.8V1750.7H411.4zM562.6 1741.0H572.0V1750.7H562.6zM411.4 1750.7H420.8V1760.5H411.4zM562.6 1750.7H572.0V1760.5H562.6zM401.9 1760.5H411.4V1770.2H401.9zM562.6 1760.5H581.5V1770.2H562.6zM392.5 1770.2H401.9V1780.0H392.5zM562.6 1770.2H581.5V1780.0H562.6zM383.0 1780.0H392.5V1789.7H383.0zM562.6 1780.0H590.9V1789.7H562.6zM562.6 1789.7H590.9V1799.4H562.6zM373.6 1799.4H383.0V1809.2H373.6zM553.1 1799.4H600.4V1809.2H553.1zM373.6 1809.2H383.0V1818.9H373.6zM553.1 1809.2H572.0V1818.9H553.1zM543.7 1818.9H609.8V1828.7H543.7zM364.2 1828.7H373.6V1838.4H364.2zM534.2 1828.7H609.8V1838.4H534.2zM364.2 1838.4H373.6V1848.2H364.2zM534.2 1838.4H609.8V1848.2H534.2zM364.2 1848.2H373.6V1857.9H364.2zM590.9 1848.2H609.8V1857.9H590.9zM364.2 1857.9H373.6V1867.6H364.2zM590.9 1857.9H609.8V1867.6H590.9zM364.2 1867.6H373.6V1877.4H364.2zM590.9 1867.6H609.8V1877.4H590.9zM590.9 1877.4H609.8V1887.1H590.9zM373.6 1887.1H383.0V1896.9H373.6zM534.2 1887.1H609.8V1896.9H534.2zM534.2 1896.9H609.8V1906.6H534.2zM383.0 1906.6H392.5V1916.4H383.0zM515.3 1906.6H609.8V1916.4H515.3zM505.9 1916.4H543.7V1926.1H505.9zM392.5 1926.1H401.9V1935.8H392.5zM496.4 1926.1H505.9V1935.8H496.4zM411.4 1935.8H420.8V1945.6H411.4zM477.5 1935.8H487.0V1945.6H477.5z"/>
<path fill="#c2ff00" d="M373.6 1818.9H383.0V1828.7H373.6zM515.3 1838.4H524.8V1848.2H515.3zM553.1 1848.2H590.9V1857.9H553.1zM543.7 1857.9H590.9V1867.6H543.7zM543.7 1867.6H590.9V1877.4H543.7zM543.7 1877.4H590.9V1887.1H543.7zM524.8 1896.9H534.2V1906.6H524.8zM505.9 1906.6H515.3V1916.4H505.9zM420.8 1935.8H468.1V1945.6H420.8z"/>
<path fill="#daff00" d="M383.0 1789.7H392.5V1799.4H383.0zM543.7 1809.2H553.1V1818.9H543.7zM534.2 1818.9H543.7V1828.7H534.2zM524.8 1828.7H534.2V1838.4H524.8zM524.8 1838.4H534.2V1848.2H524.8zM515.3 1848.2H553.1V1857.9H515.3zM515.3 1857.9H543.7V1867.6H515.3zM515.3 1867.6H543.7V1877.4H515.3zM373.6 1877.4H383.0V1887.1H373.6zM515.3 1877.4H543.7V1887.1H515.3zM524.8 1887.1H534.2V1896.9H524.8zM383.0 1896.9H392.5V1906.6H383.0zM392.5 1916.4H401.9V1926.1H392.5zM496.4 1916.4H505.9V1926.1H496.4zM401.9 1926.1H411.4V1935.8H401.9zM487.0 1926.1H496.4V1935.8H487.0zM468.1 1935.8H477.5V1945.6H468.1z"/>
<path fill="#f3ff00" d="M505.9 1663.0H515.3V1672.8H505.9zM534.2 1663.0H543.7V1672.8H534.2zM477.5 1672.8H487.0V1682.5H477.5zM468.1 1682.5H477.5V1692.3H468.1zM553.1 1682.5H562.6V1692.3H553.1zM458.6 1692.3H468.1V1702.0H458.6zM553.1 1692.3H562.6V1702.0H553.1zM449.2 1702.0H458.6V1711.8H449.2zM439.7 1711.8H449.2V1721.5H439.7zM430.3 1721.5H439.7V1731.2H430.3zM430.3 1731.2H439.7V1741.0H430.3zM420.8 1741.0H430.3V1750.7H420.8zM420.8 1750.7H430.3V1760.5H420.8zM553.1 1750.7H562.6V1760.5H553.1zM411.4 1760.5H420.8V1770.2H411.4zM553.1 1760.5H562.6V1770.2H553.1zM401.9 1770.2H411.4V1780.0H401.9zM553.1 1770.2H562.6V1780.0H553.1zM392.5 1780.0H401.9V1789.7H392.5zM553.1 1780.0H562.6V1789.7H553.1zM543.7 1789.7H562.6V1799.4H543.7zM383.0 1799.4H392.5V1809.2H383.0zM524.8 1799.4H553.1V1809.2H524.8zM505.9 1809.2H543.7V1818.9H505.9zM505.9 1818.9H534.2V1828.7H505.9zM373.6 1828.7H383.0V1838.4H373.6zM505.9 1828.7H524.8V1838.4H505.9zM373.6 1838.4H383.0V1848.2H373.6zM505.9 1838.4H515.3V1848.2H505.9zM373.6 1848.2H383.0V1857.9H373.6zM505.9 1848.2H515.3V1857.9H505.9zM373.6 1857.9H383.0V1867.6H373.6zM505.9 1857.9H515.3V1867.6H505.9zM373.6 1867.6H383.0V1877.4H373.6zM505.9 1867.6H515.3V1877.4H505.9zM383.0 1877.4H392.5V1887.1H383.0zM505.9 1877.4H515.3V1887.1H505.9zM383.0 1887.1H392.5V1896.9H383.0zM505.9 1887.1H524.8V1896.9H505.9zM505.9 1896.9H524.8V1906.6H505.9zM392.5 1906.6H401.9V1916.4H392.5zM496.4 1906.6H505.9V1916.4H496.4zM487.0 1916.4H496.4V1926.1H487.0zM411.4 1926.1H420.8V1935.8H411.4zM477.5 1926.1H487.0V1935.8H477.5z"/>
<path fill="#ffd100" d="M505.9 1799.4H524.8V1809.2H505.9zM383.0 1809.2H392.5V1818.9H383.0z"/>
<path fill="#ffb300" d="M515.3 1663.0H534.2V1672.8H515.3zM487.0 1672.8H496.4V1682.5H487.0zM543.7 1672.8H553.1V1682.5H543.7zM553.1 1702.0H562.6V1711.8H553.1zM553.1 1711.8H562.6V1721.5H553.1zM439.7 1721.5H449.2V1731.2H439.7zM553.1 1721.5H562.6V1731.2H553.1zM553.1 1731.2H562.6V1741.0H553.1zM430.3 1741.0H439.7V1750.7H430.3zM553.1 1741.0H562.6V1750.7H553.1zM411.4 1770.2H420.8V1780.0H411.4zM543.7 1770.2H553.1V1780.0H543.7zM534.2 1780.0H553.1V1789.7H534.2zM392.5 1789.7H401.9V1799.4H392.5zM505.9 1789.7H543.7V1799.4H505.9zM496.4 1799.4H505.9V1809.2H496.4zM496.4 1809.2H505.9V1818.9H496.4zM383.0 1818.9H392.5V1828.7H383.0zM496.4 1818.9H505.9V1828.7H496.4zM496.4 1828.7H505.9V1838.4H496.4zM496.4 1838.4H505.9V1848.2H496.4zM496.4 1848.2H505.9V1857.9H496.4zM383.0 1857.9H392.5V1867.6H383.0zM496.4 1857.9H505.9V1867.6H496.4zM383.0 1867.6H392.5V1877.4H383.0zM496.4 1867.6H505.9V1877.4H496.4zM496.4 1877.4H505.9V1887.1H496.4zM392.5 1887.1H401.9V1896.9H392.5zM496.4 1887.1H505.9V1896.9H496.4zM392.5 1896.9H401.9V1906.6H392.5zM496.4 1896.9H505.9V1906.6H496.4zM487.0 1906.6H496.4V1916.4H487.0zM401.9 1916.4H411.4V1926.1H401.9zM468.1 1926.1H477.5V1935.8H468.1z"/>
<path fill="#ff8c00" d="M383.0 1828.7H392.5V1838.4H383.0zM383.0 1838.4H392.5V1848.2H383.0zM383.0 1848.2H392.5V1857.9H383.0zM487.0 1887.1H496.4V1896.9H487.0zM487.0 1896.9H496.4V1906.6H487.0zM420.8 1926.1H468.1V1935.8H420.8z"/>
<path fill="#ff6700" d="M496.4 1672.8H505.9V1682.5H496.4zM477.5 1682.5H487.0V1692.3H477.5zM543.7 1682.5H553.1V1692.3H543.7zM468.1 1692.3H477.5V1702.0H468.1zM543.7 1692.3H553.1V1702.0H543.7zM458.6 1702.0H468.1V1711.8H458.6zM449.2 1711.8H458.6V1721.5H449.2zM449.2 1721.5H458.6V1731.2H449.2zM439.7 1731.2H449.2V1741.0H439.7zM439.7 1741.0H449.2V1750.7H439.7zM430.3 1750.7H439.7V1760.5H430.3zM543.7 1750.7H553.1V1760.5H543.7zM420.8 1760.5H430.3V1770.2H420.8zM543.7 1760.5H553.1V1770.2H543.7zM515.3 1770.2H543.7V1780.0H515.3zM401.9 1780.0H411.4V1789.7H401.9zM496.4 1780.0H534.2V1789.7H496.4zM401.9 1789.7H411.4V1799.4H401.9zM487.0 1789.7H505.9V1799.4H487.0zM392.5 1799.4H401.9V1809.2H392.5zM487.0 1799.4H496.4V1809.2H487.0zM392.5 1809.2H401.9V1818.9H392.5zM487.0 1809.2H496.4V1818.9H487.0zM392.5 1818.9H401.9V1828.7H392.5zM487.0 1818.9H496.4V1828.7H487.0zM392.5 1828.7H401.9V1838.4H392.5zM487.0 1828.7H496.4V1838.4H487.0zM392.5 1838.4H401.9V1848.2H392.5zM487.0 1838.4H496.4V1848.2H487.0zM392.5 1848.2H401.9V1857.9H392.5zM487.0 1848.2H496.4V1857.9H487.0zM392.5 1857.9H401.9V1867.6H392.5zM487.0 1857.9H496.4V1867.6H487.0zM392.5 1867.6H401.9V1877.4H392.5zM487.0 1867.6H496.4V1877.4H487.0zM392.5 1877.4H401.9V1887.1H392.5zM487.0 1877.4H496.4V1887.1H487.0zM401.9 1887.1H411.4V1896.9H401.9zM477.5 1887.1H487.0V1896.9H477.5zM401.9 1896.9H411.4V1906.6H401.9zM477.5 1896.9H487.0V1906.6H477.5zM401.9 1906.6H411.4V1916.4H401.9zM477.5 1906.6H487.0V1916.4H477.5zM411.4 1916.4H420.8V1926.1H411.4zM477.5 1916.4H487.0V1926.1H477.5z"/>
<path fill="#ff4f00" d="M420.8 1770.2H430.3V1780.0H420.8zM505.9 1770.2H515.3V1780.0H505.9z"/>
<path fill="#ff1c00" d="M505.9 1672.8H543.7V1682.5H505.9zM487.0 1682.5H496.4V1692.3H487.0zM477.5 1692.3H487.0V1702.0H477.5zM468.1 1702.0H477.5V1711.8H468.1zM543.7 1702.0H553.1V1711.8H543.7zM458.6 1711.8H468.1V1721.5H458.6zM543.7 1711.8H553.1V1721.5H543.7zM458.6 1721.5H468.1V1731.2H458.6zM543.7 1721.5H553.1V1731.2H543.7zM449.2 1731.2H458.6V1741.0H449.2zM543.7 1731.2H553.1V1741.0H543.7zM449.2 1741.0H458.6V1750.7H449.2zM543.7 1741.0H553.1V1750.7H543.7zM439.7 1750.7H449.2V1760.5H439.7zM430.3 1760.5H439.7V1770.2H430.3zM496.4 1760.5H543.7V1770.2H496.4zM496.4 1770.2H505.9V1780.0H496.4zM411.4 1780.0H420.8V1789.7H411.4zM487.0 1780.0H496.4V1789.7H487.0zM411.4 1789.7H420.8V1799.4H411.4zM477.5 1789.7H487.0V1799.4H477.5zM401.9 1799.4H411.4V1809.2H401.9zM477.5 1799.4H487.0V1809.2H477.5zM401.9 1809.2H411.4V1818.9H401.9zM477.5 1809.2H487.0V1818.9H477.5zM401.9 1818.9H411.4V1828.7H401.9zM477.5 1818.9H487.0V1828.7H477.5zM401.9 1828.7H411.4V1838.4H401.9zM477.5 1828.7H487.0V1838.4H477.5zM401.9 1838.4H411.4V1848.2H401.9zM477.5 1838.4H487.0V1848.2H477.5zM401.9 1848.2H411.4V1857.9H401.9zM477.5 1848.2H487.0V1857.9H477.5zM401.9 1857.9H411.4V1867.6H401.9zM477.5 1857.9H487.0V1867.6H477.5zM401.9 1867.6H411.4V1877.4H401.9zM477.5 1867.6H487.0V1877.4H477.5zM401.9 1877.4H411.4V1887.1H401.9zM477.5 1877.4H487.0V1887.1H477.5zM411.4 1887.1H420.8V1896.9H411.4zM468.1 1887.1H477.5V1896.9H468.1zM411.4 1896.9H420.8V1906.6H411.4zM468.1 1896.9H477.5V1906.6H468.1zM411.4 1906.6H420.8V1916.4H411.4zM468.1 1906.6H477.5V1916.4H468.1zM420.8 1916.4H477.5V1926.1H420.8z"/>
<path fill="#ff0000" d="M420.8 1906.6H468.1V1916.4H420.8z"/>
<path fill="#ff0000" d="M496.4 1682.5H543.7V1692.3H496.4zM487.0 1692.3H543.7V1702.0H487.0zM477.5 1702.0H543.7V1711.8H477.5zM468.1 1711.8H543.7V1721.5H468.1zM468.1 1721.5H543.7V1731.2H468.1zM458.6 1731.2H543.7V1741.0H458.6zM458.6 1741.0H543.7V1750.7H458.6zM449.2 1750.7H543.7V1760.5H449.2zM439.7 1760.5H496.4V1770.2H439.7zM430.3 1770.2H496.4V1780.0H430.3zM420.8 1780.0H487.0V1789.7H420.8zM420.8 1789.7H477.5V1799.4H420.8zM411.4 1799.4H477.5V1809.2H411.4zM411.4 1809.2H477.5V1818.9H411.4zM411.4 1818.9H477.5V1828.7H411.4zM411.4 1828.7H477.5V1838.4H411.4zM411.4 1838.4H477.5V1848.2H411.4zM411.4 1848.2H477.5V1857.9H411.4zM411.4 1857.9H477.5V1867.6H411.4zM411.4 1867.6H477.5V1877.4H411.4zM411.4 1877.4H477.5V1887.1H411.4zM420.8 1887.1H468.1V1896.9H420.8zM420.8 1896.9H468.1V1906.6H420.8z"/>
<rect x="505.9" y="1702.0" width="18.9" height="9.7" fill="#fff"/>
</g>
<rect x="622" y="1651.5" width="21.5" height="496" fill="#e8e8f0"/>
<rect x="623" y="1653.5" width="19.5" height="493.1" fill="url(#cb)"/>
<path d="M623 1694.6h3M642.5 1694.6h-3" stroke="#000" stroke-opacity="0.45" stroke-width="1.6"/>
<path d="M623 1735.7h3M642.5 1735.7h-3" stroke="#000" stroke-opacity="0.45" stroke-width="1.6"/>
<path d="M623 1776.8h3M642.5 1776.8h-3" stroke="#000" stroke-opacity="0.45" stroke-width="1.6"/>
<path d="M623 1817.9h3M642.5 1817.9h-3" stroke="#000" stroke-opacity="0.45" stroke-width="1.6"/>
<path d="M623 1859.0h3M642.5 1859.0h-3" stroke="#000" stroke-opacity="0.45" stroke-width="1.6"/>
<path d="M623 1900.1h3M642.5 1900.1h-3" stroke="#000" stroke-opacity="0.45" stroke-width="1.6"/>
<path d="M623 1941.2h3M642.5 1941.2h-3" stroke="#000" stroke-opacity="0.45" stroke-width="1.6"/>
<path d="M623 1982.3h3M642.5 1982.3h-3" stroke="#000" stroke-opacity="0.45" stroke-width="1.6"/>
<path d="M623 2023.4h3M642.5 2023.4h-3" stroke="#000" stroke-opacity="0.45" stroke-width="1.6"/>
<path d="M623 2064.5h3M642.5 2064.5h-3" stroke="#000" stroke-opacity="0.45" stroke-width="1.6"/>
<path d="M623 2105.6h3M642.5 2105.6h-3" stroke="#000" stroke-opacity="0.45" stroke-width="1.6"/>
<path d="M609.8 1660.0h-4M609.8 1667.2h-4M609.8 1674.4h-4M609.8 1681.6h-4M609.8 1688.8h-4M609.8 1696.0h-4M609.8 1703.2h-7M609.8 1710.4h-4M609.8 1717.6h-4M609.8 1724.8h-4M609.8 1732.0h-4M609.8 1739.2h-4M609.8 1746.4h-4M609.8 1753.6h-4M609.8 1760.8h-4M609.8 1768.0h-4M609.8 1775.2h-7M609.8 1782.4h-4M609.8 1789.6h-4M609.8 1796.8h-4M609.8 1804.0h-4M609.8 1811.2h-4M609.8 1818.4h-4M609.8 1825.6h-4M609.8 1832.8h-4M609.8 1840.0h-4M609.8 1847.2h-7M609.8 1854.4h-4M609.8 1861.6h-4M609.8 1868.8h-4M609.8 1876.0h-4M609.8 1883.2h-4M609.8 1890.4h-4M609.8 1897.6h-4M609.8 1904.8h-4M609.8 1912.0h-4M609.8 1919.2h-7M609.8 1926.4h-4M609.8 1933.6h-4M609.8 1940.8h-4M609.8 1948.0h-4M609.8 1955.2h-4M609.8 1962.4h-4M609.8 1969.6h-4M609.8 1976.8h-4M609.8 1984.0h-4M609.8 1991.2h-7M609.8 1998.4h-4M609.8 2005.6h-4M609.8 2012.8h-4M609.8 2020.0h-4M609.8 2027.2h-4M609.8 2034.4h-4M609.8 2041.6h-4M609.8 2048.8h-4M609.8 2056.0h-4M609.8 2063.2h-7M609.8 2070.4h-4M609.8 2077.6h-4M609.8 2084.8h-4" stroke="#063" stroke-opacity="0.45" stroke-width="1.3"/>
<text x="159.5" y="1629.6" font-size="59" text-anchor="start"  word-spacing="6">Norm. scatterplot</text>
<text x="136.5" y="2271.6" font-size="59" text-anchor="start"  word-spacing="4.7">Norm. volume decorr.</text>
<text x="144.1" y="2211.2" font-size="60" text-anchor="middle" >0</text>
<text x="222.1" y="2211.2" font-size="60" text-anchor="middle" >2</text>
<text x="304.6" y="2211.2" font-size="60" text-anchor="middle" >4</text>
<text x="384.3" y="2211.2" font-size="60" text-anchor="middle" >6</text>
<text x="465.2" y="2211.2" font-size="60" text-anchor="middle" >8</text>
<text x="573.1" y="2211.2" font-size="60" text-anchor="middle" >10</text>
<text x="106.5" y="2168.0" font-size="60" text-anchor="middle" >0</text>
<text x="106.5" y="2104.8" font-size="60" text-anchor="middle" >1</text>
<text x="106.5" y="2034.0" font-size="60" text-anchor="middle" >2</text>
<text x="106.5" y="1955.5" font-size="60" text-anchor="middle" >3</text>
<text x="106.5" y="1877.4" font-size="60" text-anchor="middle" >4</text>
<text x="106.5" y="1803.2" font-size="60" text-anchor="middle" >5</text>
<text x="106.5" y="1725.3" font-size="60" text-anchor="middle" >6</text>
<text transform="translate(70.3 2119.5) rotate(-90)" font-size="60" word-spacing="7">Norm. backscatter</text>
<text x="654.0" y="1680.7" font-size="60" text-anchor="start" >1</text>
<text x="658.0" y="1929.4" font-size="60" text-anchor="start" >0.5</text>
<text x="658.0" y="2167.5" font-size="60" text-anchor="start" >0</text>
</g>
<use href="#plotc" x="819.2" y="0"/>
<use href="#plotc" x="1637.6" y="0"/>
<g transform="translate(0.0 0)"><path d="M436.5 1855.1l5 5l-5 5l-5 -5z" fill="#000"/>
<text x="453.8" y="1897.9" font-size="33">V</text>
<path d="M460.3 1867.9l5.5 -6l5.5 6" fill="none" stroke="#000" stroke-width="1.8"/>
<text x="478.8" y="1913.9" font-size="26">1</text>
<path d="M469.3 1783.8l5 5l-5 5l-5 -5z" fill="#000"/>
<text x="485.9" y="1823.0" font-size="33">V</text>
<path d="M492.4 1793.0l5.5 -6l5.5 6" fill="none" stroke="#000" stroke-width="1.8"/>
<text x="510.9" y="1839.0" font-size="26">2</text>
<path d="M517.1 1713.2l5 5l-5 5l-5 -5z" fill="#000"/>
<text x="532.7" y="1760.0" font-size="33">V</text>
<path d="M539.2 1730.0l5.5 -6l5.5 6" fill="none" stroke="#000" stroke-width="1.8"/>
<text x="557.7" y="1776.0" font-size="26">3</text></g>
<g transform="translate(819.2 0)"><path d="M431.2 1864.8l5 5l-5 5l-5 -5z" fill="#000"/>
<text x="440.4" y="1929.4" font-size="33">V</text>
<path d="M446.9 1899.4l5.5 -6l5.5 6" fill="none" stroke="#000" stroke-width="1.8"/>
<text x="465.4" y="1945.4" font-size="26">1</text>
<path d="M457.2 1815.2l5 5l-5 5l-5 -5z" fill="#000"/>
<text x="472.0" y="1853.8" font-size="33">V</text>
<path d="M478.5 1823.8l5.5 -6l5.5 6" fill="none" stroke="#000" stroke-width="1.8"/>
<text x="497.0" y="1869.8" font-size="26">2</text>
<path d="M485.7 1743.0l5 5l-5 5l-5 -5z" fill="#000"/>
<text x="505.5" y="1793.0" font-size="33">V</text>
<path d="M512.0 1763.0l5.5 -6l5.5 6" fill="none" stroke="#000" stroke-width="1.8"/>
<text x="530.5" y="1809.0" font-size="26">3</text>
<path d="M523.5 1712.4l5 5l-5 5l-5 -5z" fill="#000"/>
<text x="545.3" y="1744.7" font-size="33">V</text>
<path d="M551.8 1714.7l5.5 -6l5.5 6" fill="none" stroke="#000" stroke-width="1.8"/>
<text x="570.3" y="1760.7" font-size="26">4</text></g>
<g transform="translate(1637.6 0)"><path d="M428.3 1867.7l5 5l-5 5l-5 -5z" fill="#000"/>
<text x="428.3" y="1939.9" font-size="33">V</text>
<path d="M434.8 1909.9l5.5 -6l5.5 6" fill="none" stroke="#000" stroke-width="1.8"/>
<text x="453.3" y="1955.9" font-size="26">1</text>
<path d="M450.1 1829.9l5 5l-5 5l-5 -5z" fill="#000"/>
<text x="461.9" y="1885.3" font-size="33">V</text>
<path d="M468.4 1855.3l5.5 -6l5.5 6" fill="none" stroke="#000" stroke-width="1.8"/>
<text x="486.9" y="1901.3" font-size="26">2</text>
<path d="M469.4 1784.6l5 5l-5 5l-5 -5z" fill="#000"/>
<text x="489.1" y="1837.0" font-size="33">V</text>
<path d="M495.6 1807.0l5.5 -6l5.5 6" fill="none" stroke="#000" stroke-width="1.8"/>
<text x="514.1" y="1853.0" font-size="26">3</text>
<path d="M495.4 1721.6l5 5l-5 5l-5 -5z" fill="#000"/>
<text x="503.8" y="1774.1" font-size="33">V</text>
<path d="M510.3 1744.1l5.5 -6l5.5 6" fill="none" stroke="#000" stroke-width="1.8"/>
<text x="528.8" y="1790.1" font-size="26">4</text>
<path d="M528.2 1711.1l5 5l-5 5l-5 -5z" fill="#000"/>
<text x="552.1" y="1734.2" font-size="33">V</text>
<path d="M558.6 1704.2l5.5 -6l5.5 6" fill="none" stroke="#000" stroke-width="1.8"/>
<text x="577.1" y="1750.2" font-size="26">5</text></g>
<text transform="translate(435.3 1299.8) scale(0.96 1)" font-size="62" text-anchor="start"  word-spacing="6">Cluster 1</text>
<rect x="680.6" y="1258.6" width="43.0" height="46.0" fill="#0000ff" stroke="#3b5f92" stroke-width="3"/>
<text transform="translate(435.3 1370.2) scale(0.96 1)" font-size="62" text-anchor="start"  word-spacing="6">Cluster 2</text>
<rect x="680.6" y="1325.9" width="43.0" height="46.0" fill="#00ff00" stroke="#3b5f92" stroke-width="3"/>
<text transform="translate(435.3 1439.2) scale(0.96 1)" font-size="62" text-anchor="start"  word-spacing="6">Cluster 3</text>
<rect x="680.6" y="1395.6" width="43.0" height="46.0" fill="#ff0000" stroke="#3b5f92" stroke-width="3"/>
<text transform="translate(1247.7 1234.2) scale(0.96 1)" font-size="62" text-anchor="start"  word-spacing="7.5">Cluster 1</text>
<rect x="1494.9" y="1192.0" width="42.3" height="45.4" fill="#0000ff" stroke="#3b5f92" stroke-width="3"/>
<text transform="translate(1247.7 1305.8) scale(0.96 1)" font-size="62" text-anchor="start"  word-spacing="7.5">Cluster 2</text>
<rect x="1494.9" y="1261.2" width="42.3" height="45.4" fill="#00ff00" stroke="#3b5f92" stroke-width="3"/>
<text transform="translate(1247.7 1373.6) scale(0.96 1)" font-size="62" text-anchor="start"  word-spacing="7.5">Cluster 3</text>
<rect x="1494.9" y="1328.3" width="42.3" height="45.4" fill="#ffc000" stroke="#3b5f92" stroke-width="3"/>
<text transform="translate(1247.7 1436.6) scale(0.96 1)" font-size="62" text-anchor="start"  word-spacing="7.5">Cluster 4</text>
<rect x="1494.9" y="1391.7" width="42.3" height="45.4" fill="#ff0000" stroke="#3b5f92" stroke-width="3"/>
<text x="2064.0" y="1171.4" font-size="58.5" text-anchor="start"  word-spacing="5">Cluster 1</text>
<rect x="2297.7" y="1127.7" width="41.5" height="45.6" fill="#0000ff" stroke="#3b5f92" stroke-width="3"/>
<text x="2064.0" y="1242.6" font-size="58.5" text-anchor="start"  word-spacing="5">Cluster 2</text>
<rect x="2297.7" y="1195.5" width="41.5" height="45.6" fill="#00ffff" stroke="#3b5f92" stroke-width="3"/>
<text x="2064.0" y="1312.0" font-size="58.5" text-anchor="start"  word-spacing="5">Cluster 3</text>
<rect x="2297.7" y="1264.6" width="41.5" height="45.6" fill="#00ff00" stroke="#3b5f92" stroke-width="3"/>
<text x="2064.0" y="1373.7" font-size="58.5" text-anchor="start"  word-spacing="5">Cluster 4</text>
<rect x="2297.7" y="1326.0" width="41.5" height="45.6" fill="#ffc000" stroke="#3b5f92" stroke-width="3"/>
<text x="2064.0" y="1441.2" font-size="58.5" text-anchor="start"  word-spacing="5">Cluster 5</text>
<rect x="2297.7" y="1395.5" width="41.5" height="45.6" fill="#ff0000" stroke="#3b5f92" stroke-width="3"/>
<text x="355.5" y="1519.5" font-size="60" text-anchor="middle" >(a)</text>
<text x="1189.0" y="1519.5" font-size="60" text-anchor="middle" >(b)</text>
<text x="2038.0" y="1520.0" font-size="60" text-anchor="middle" >(c)</text>
<text x="356.5" y="2384.9" font-size="60" text-anchor="middle" >(d)</text>
<text x="1190.5" y="2384.5" font-size="60" text-anchor="middle" >(e)</text>
<text x="2038.0" y="2384.5" font-size="60" text-anchor="middle" >(f)</text>
</svg></body></html>
